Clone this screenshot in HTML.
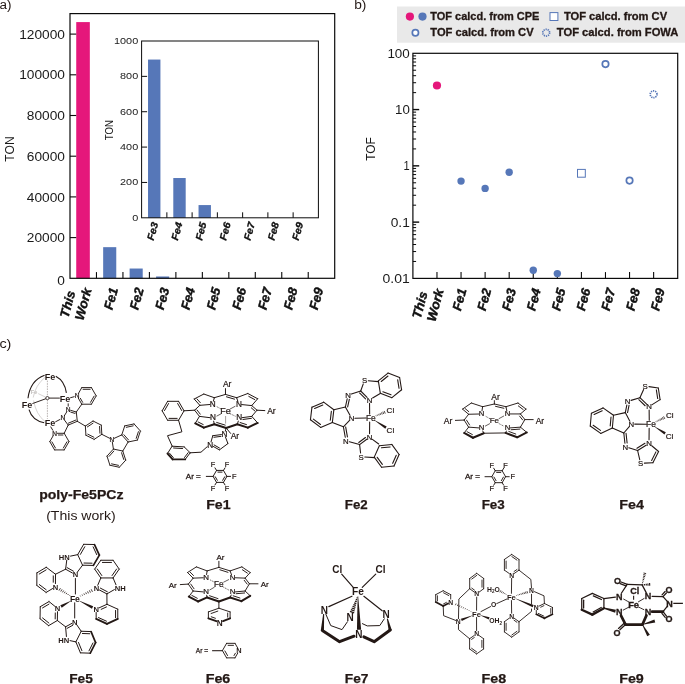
<!DOCTYPE html>
<html><head><meta charset="utf-8"><title>Figure</title>
<style>
html,body{margin:0;padding:0;background:#fff;}
body{width:685px;height:684px;overflow:hidden;font-family:"Liberation Sans", sans-serif;}
svg{display:block;font-family:"Liberation Sans", sans-serif;will-change:transform;}
</style></head><body>
<svg width="685" height="684" viewBox="0 0 685 684">
<rect x="0" y="0" width="685" height="684" fill="#ffffff"/>
<text x="-0.6" y="9.2" font-size="12" font-weight="normal" font-style="normal" text-anchor="start" fill="#231815" textLength="12" lengthAdjust="spacingAndGlyphs" >a)</text>
<text x="354.2" y="9.2" font-size="12" font-weight="normal" font-style="normal" text-anchor="start" fill="#231815" textLength="12.2" lengthAdjust="spacingAndGlyphs" >b)</text>
<text x="-0.6" y="347.5" font-size="12" font-weight="normal" font-style="normal" text-anchor="start" fill="#231815" textLength="12" lengthAdjust="spacingAndGlyphs" >c)</text>
<rect x="76.23" y="22.09" width="13.6" height="256.21" fill="#e5177b" stroke="none" stroke-width="0"/>
<rect x="103.16" y="247.16" width="13.1" height="31.14" fill="#5677b8" stroke="none" stroke-width="0"/>
<rect x="129.62" y="268.53" width="13.1" height="9.77" fill="#5677b8" stroke="none" stroke-width="0"/>
<rect x="156.09" y="276.48" width="13.1" height="1.82" fill="#5677b8" stroke="none" stroke-width="0"/>
<rect x="70" y="13.6" width="264.7" height="264.7" fill="none" stroke="#0a0a0a" stroke-width="1.2"/>
<text x="65" y="284.9" font-size="12.4" font-weight="normal" font-style="normal" text-anchor="end" fill="#1a1a1a" textLength="7.63" lengthAdjust="spacingAndGlyphs" >0</text>
<line x1="70" y1="237.6" x2="76.2" y2="237.6" stroke="#0a0a0a" stroke-width="1.1" />
<text x="65" y="242.2" font-size="12.4" font-weight="normal" font-style="normal" text-anchor="end" fill="#1a1a1a" textLength="38.15" lengthAdjust="spacingAndGlyphs" >20000</text>
<line x1="70" y1="196.9" x2="76.2" y2="196.9" stroke="#0a0a0a" stroke-width="1.1" />
<text x="65" y="201.5" font-size="12.4" font-weight="normal" font-style="normal" text-anchor="end" fill="#1a1a1a" textLength="38.15" lengthAdjust="spacingAndGlyphs" >40000</text>
<line x1="70" y1="156.2" x2="76.2" y2="156.2" stroke="#0a0a0a" stroke-width="1.1" />
<text x="65" y="160.8" font-size="12.4" font-weight="normal" font-style="normal" text-anchor="end" fill="#1a1a1a" textLength="38.15" lengthAdjust="spacingAndGlyphs" >60000</text>
<line x1="70" y1="115.5" x2="76.2" y2="115.5" stroke="#0a0a0a" stroke-width="1.1" />
<text x="65" y="120.1" font-size="12.4" font-weight="normal" font-style="normal" text-anchor="end" fill="#1a1a1a" textLength="38.15" lengthAdjust="spacingAndGlyphs" >80000</text>
<line x1="70" y1="74.8" x2="76.2" y2="74.8" stroke="#0a0a0a" stroke-width="1.1" />
<text x="65" y="79.4" font-size="12.4" font-weight="normal" font-style="normal" text-anchor="end" fill="#1a1a1a" textLength="45.78" lengthAdjust="spacingAndGlyphs" >100000</text>
<line x1="70" y1="34.1" x2="76.2" y2="34.1" stroke="#0a0a0a" stroke-width="1.1" />
<text x="65" y="38.7" font-size="12.4" font-weight="normal" font-style="normal" text-anchor="end" fill="#1a1a1a" textLength="45.78" lengthAdjust="spacingAndGlyphs" >120000</text>
<line x1="96.47" y1="278.3" x2="96.47" y2="272.1" stroke="#0a0a0a" stroke-width="1.1" />
<line x1="122.94" y1="278.3" x2="122.94" y2="272.1" stroke="#0a0a0a" stroke-width="1.1" />
<line x1="149.41" y1="278.3" x2="149.41" y2="272.1" stroke="#0a0a0a" stroke-width="1.1" />
<line x1="175.88" y1="278.3" x2="175.88" y2="272.1" stroke="#0a0a0a" stroke-width="1.1" />
<line x1="202.35" y1="278.3" x2="202.35" y2="272.1" stroke="#0a0a0a" stroke-width="1.1" />
<line x1="228.82" y1="278.3" x2="228.82" y2="272.1" stroke="#0a0a0a" stroke-width="1.1" />
<line x1="255.29" y1="278.3" x2="255.29" y2="272.1" stroke="#0a0a0a" stroke-width="1.1" />
<line x1="281.76" y1="278.3" x2="281.76" y2="272.1" stroke="#0a0a0a" stroke-width="1.1" />
<line x1="308.23" y1="278.3" x2="308.23" y2="272.1" stroke="#0a0a0a" stroke-width="1.1" />
<text x="0" y="0" font-size="12" font-weight="normal" font-style="normal" text-anchor="middle" fill="#1a1a1a" textLength="25.3" lengthAdjust="spacingAndGlyphs" transform="translate(13.6 149.0) rotate(-90)">TON</text>
<text x="68.3" y="318.4" font-size="12.84" font-weight="bold" font-style="italic" text-anchor="start" fill="#111" textLength="27.19" lengthAdjust="spacingAndGlyphs" transform="rotate(-75 68.3 318.4)" stroke="#111" stroke-width="0.42">This</text>
<text x="83.2" y="321" font-size="12.84" font-weight="bold" font-style="italic" text-anchor="start" fill="#111" textLength="32.55" lengthAdjust="spacingAndGlyphs" transform="rotate(-75 83.2 321)" stroke="#111" stroke-width="0.42">Work</text>
<text x="112.3" y="310.6" font-size="12.84" font-weight="bold" font-style="italic" text-anchor="start" fill="#111" textLength="22.45" lengthAdjust="spacingAndGlyphs" transform="rotate(-75 112.3 310.6)" stroke="#111" stroke-width="0.42">Fe1</text>
<text x="137.96" y="310.6" font-size="12.84" font-weight="bold" font-style="italic" text-anchor="start" fill="#111" textLength="22.45" lengthAdjust="spacingAndGlyphs" transform="rotate(-75 137.96 310.6)" stroke="#111" stroke-width="0.42">Fe2</text>
<text x="163.62" y="310.6" font-size="12.84" font-weight="bold" font-style="italic" text-anchor="start" fill="#111" textLength="22.45" lengthAdjust="spacingAndGlyphs" transform="rotate(-75 163.62 310.6)" stroke="#111" stroke-width="0.42">Fe3</text>
<text x="189.28" y="310.6" font-size="12.84" font-weight="bold" font-style="italic" text-anchor="start" fill="#111" textLength="22.45" lengthAdjust="spacingAndGlyphs" transform="rotate(-75 189.28 310.6)" stroke="#111" stroke-width="0.42">Fe4</text>
<text x="214.94" y="310.6" font-size="12.84" font-weight="bold" font-style="italic" text-anchor="start" fill="#111" textLength="22.45" lengthAdjust="spacingAndGlyphs" transform="rotate(-75 214.94 310.6)" stroke="#111" stroke-width="0.42">Fe5</text>
<text x="240.6" y="310.6" font-size="12.84" font-weight="bold" font-style="italic" text-anchor="start" fill="#111" textLength="22.45" lengthAdjust="spacingAndGlyphs" transform="rotate(-75 240.6 310.6)" stroke="#111" stroke-width="0.42">Fe6</text>
<text x="266.26" y="310.6" font-size="12.84" font-weight="bold" font-style="italic" text-anchor="start" fill="#111" textLength="22.45" lengthAdjust="spacingAndGlyphs" transform="rotate(-75 266.26 310.6)" stroke="#111" stroke-width="0.42">Fe7</text>
<text x="291.92" y="310.6" font-size="12.84" font-weight="bold" font-style="italic" text-anchor="start" fill="#111" textLength="22.45" lengthAdjust="spacingAndGlyphs" transform="rotate(-75 291.92 310.6)" stroke="#111" stroke-width="0.42">Fe8</text>
<text x="317.58" y="310.6" font-size="12.84" font-weight="bold" font-style="italic" text-anchor="start" fill="#111" textLength="22.45" lengthAdjust="spacingAndGlyphs" transform="rotate(-75 317.58 310.6)" stroke="#111" stroke-width="0.42">Fe9</text>
<rect x="148.03" y="59.56" width="12.4" height="158.24" fill="#5677b8" stroke="none" stroke-width="0"/>
<rect x="173.29" y="178.02" width="12.4" height="39.78" fill="#5677b8" stroke="none" stroke-width="0"/>
<rect x="198.54" y="205.07" width="12.4" height="12.73" fill="#5677b8" stroke="none" stroke-width="0"/>
<rect x="141.6" y="41" width="176.8" height="176.8" fill="none" stroke="#0a0a0a" stroke-width="1"/>
<text x="138.2" y="220.8" font-size="9.8" font-weight="normal" font-style="normal" text-anchor="end" fill="#1a1a1a" textLength="6.05" lengthAdjust="spacingAndGlyphs" >0</text>
<line x1="141.6" y1="182.44" x2="147.1" y2="182.44" stroke="#0a0a0a" stroke-width="1" />
<text x="138.2" y="185.44" font-size="9.8" font-weight="normal" font-style="normal" text-anchor="end" fill="#1a1a1a" textLength="18.15" lengthAdjust="spacingAndGlyphs" >200</text>
<line x1="141.6" y1="147.08" x2="147.1" y2="147.08" stroke="#0a0a0a" stroke-width="1" />
<text x="138.2" y="150.08" font-size="9.8" font-weight="normal" font-style="normal" text-anchor="end" fill="#1a1a1a" textLength="18.15" lengthAdjust="spacingAndGlyphs" >400</text>
<line x1="141.6" y1="111.72" x2="147.1" y2="111.72" stroke="#0a0a0a" stroke-width="1" />
<text x="138.2" y="114.72" font-size="9.8" font-weight="normal" font-style="normal" text-anchor="end" fill="#1a1a1a" textLength="18.15" lengthAdjust="spacingAndGlyphs" >600</text>
<line x1="141.6" y1="76.36" x2="147.1" y2="76.36" stroke="#0a0a0a" stroke-width="1" />
<text x="138.2" y="79.36" font-size="9.8" font-weight="normal" font-style="normal" text-anchor="end" fill="#1a1a1a" textLength="18.15" lengthAdjust="spacingAndGlyphs" >800</text>
<text x="138.2" y="44" font-size="9.8" font-weight="normal" font-style="normal" text-anchor="end" fill="#1a1a1a" textLength="24.2" lengthAdjust="spacingAndGlyphs" >1000</text>
<line x1="166.86" y1="217.8" x2="166.86" y2="212.3" stroke="#0a0a0a" stroke-width="1" />
<line x1="192.11" y1="217.8" x2="192.11" y2="212.3" stroke="#0a0a0a" stroke-width="1" />
<line x1="217.37" y1="217.8" x2="217.37" y2="212.3" stroke="#0a0a0a" stroke-width="1" />
<line x1="242.63" y1="217.8" x2="242.63" y2="212.3" stroke="#0a0a0a" stroke-width="1" />
<line x1="267.89" y1="217.8" x2="267.89" y2="212.3" stroke="#0a0a0a" stroke-width="1" />
<line x1="293.14" y1="217.8" x2="293.14" y2="212.3" stroke="#0a0a0a" stroke-width="1" />
<text x="0" y="0" font-size="10" font-weight="normal" font-style="normal" text-anchor="middle" fill="#1a1a1a" textLength="20.2" lengthAdjust="spacingAndGlyphs" transform="translate(112.9 130.2) rotate(-90)">TON</text>
<text x="153.6" y="241" font-size="9.95" font-weight="bold" font-style="italic" text-anchor="start" fill="#111" textLength="18.33" lengthAdjust="spacingAndGlyphs" transform="rotate(-75 153.6 241)" stroke="#111" stroke-width="0.33">Fe3</text>
<text x="177.75" y="241" font-size="9.95" font-weight="bold" font-style="italic" text-anchor="start" fill="#111" textLength="18.33" lengthAdjust="spacingAndGlyphs" transform="rotate(-75 177.75 241)" stroke="#111" stroke-width="0.33">Fe4</text>
<text x="201.9" y="241" font-size="9.95" font-weight="bold" font-style="italic" text-anchor="start" fill="#111" textLength="18.33" lengthAdjust="spacingAndGlyphs" transform="rotate(-75 201.9 241)" stroke="#111" stroke-width="0.33">Fe5</text>
<text x="226.05" y="241" font-size="9.95" font-weight="bold" font-style="italic" text-anchor="start" fill="#111" textLength="18.33" lengthAdjust="spacingAndGlyphs" transform="rotate(-75 226.05 241)" stroke="#111" stroke-width="0.33">Fe6</text>
<text x="250.2" y="241" font-size="9.95" font-weight="bold" font-style="italic" text-anchor="start" fill="#111" textLength="18.33" lengthAdjust="spacingAndGlyphs" transform="rotate(-75 250.2 241)" stroke="#111" stroke-width="0.33">Fe7</text>
<text x="274.35" y="241" font-size="9.95" font-weight="bold" font-style="italic" text-anchor="start" fill="#111" textLength="18.33" lengthAdjust="spacingAndGlyphs" transform="rotate(-75 274.35 241)" stroke="#111" stroke-width="0.33">Fe8</text>
<text x="298.5" y="241" font-size="9.95" font-weight="bold" font-style="italic" text-anchor="start" fill="#111" textLength="18.33" lengthAdjust="spacingAndGlyphs" transform="rotate(-75 298.5 241)" stroke="#111" stroke-width="0.33">Fe9</text>
<rect x="397" y="6.5" width="288.2" height="36.2" fill="#e9e9e9" stroke="none" stroke-width="0"/>
<circle cx="409.9" cy="16.6" r="4.1" fill="#e5177b"/>
<circle cx="422.5" cy="16.6" r="4.1" fill="#5677b8"/>
<text x="430.3" y="19.7" font-size="10.8" font-weight="bold" font-style="normal" text-anchor="start" fill="#231815" textLength="109" lengthAdjust="spacingAndGlyphs" stroke="#231815" stroke-width="0.3">TOF calcd. from CPE</text>
<rect x="550" y="12.6" width="7.9" height="7.9" fill="#fff" stroke="#5677b8" stroke-width="1"/>
<text x="563.9" y="19.7" font-size="10.8" font-weight="bold" font-style="normal" text-anchor="start" fill="#231815" textLength="103.2" lengthAdjust="spacingAndGlyphs" stroke="#231815" stroke-width="0.3">TOF calcd. from CV</text>
<circle cx="415.4" cy="32.7" r="3.1" fill="#fff" stroke="#5677b8" stroke-width="1.7"/>
<text x="430.3" y="35.8" font-size="10.8" font-weight="bold" font-style="normal" text-anchor="start" fill="#231815" textLength="103.3" lengthAdjust="spacingAndGlyphs" stroke="#231815" stroke-width="0.3">TOF calcd. from CV</text>
<circle cx="546.2" cy="32.7" r="3.4" fill="none" stroke="#5677b8" stroke-width="1.7" stroke-dasharray="1.25 0.886"/>
<text x="556.8" y="35.8" font-size="10.8" font-weight="bold" font-style="normal" text-anchor="start" fill="#231815" textLength="121.6" lengthAdjust="spacingAndGlyphs" stroke="#231815" stroke-width="0.3">TOF calcd. from FOWA</text>
<rect x="412.9" y="53.3" width="264.8" height="225.1" fill="none" stroke="#0a0a0a" stroke-width="1.2"/>
<text x="409.8" y="282.9" font-size="12.4" font-weight="normal" font-style="normal" text-anchor="end" fill="#1a1a1a" textLength="27.2" lengthAdjust="spacingAndGlyphs" >0.01</text>
<line x1="412.9" y1="261.46" x2="416.1" y2="261.46" stroke="#0a0a0a" stroke-width="1" />
<line x1="412.9" y1="251.55" x2="416.1" y2="251.55" stroke="#0a0a0a" stroke-width="1" />
<line x1="412.9" y1="244.52" x2="416.1" y2="244.52" stroke="#0a0a0a" stroke-width="1" />
<line x1="412.9" y1="239.07" x2="416.1" y2="239.07" stroke="#0a0a0a" stroke-width="1" />
<line x1="412.9" y1="234.61" x2="416.1" y2="234.61" stroke="#0a0a0a" stroke-width="1" />
<line x1="412.9" y1="230.84" x2="416.1" y2="230.84" stroke="#0a0a0a" stroke-width="1" />
<line x1="412.9" y1="227.58" x2="416.1" y2="227.58" stroke="#0a0a0a" stroke-width="1" />
<line x1="412.9" y1="224.7" x2="416.1" y2="224.7" stroke="#0a0a0a" stroke-width="1" />
<line x1="412.9" y1="222.12" x2="419.2" y2="222.12" stroke="#0a0a0a" stroke-width="1.4" />
<text x="409.8" y="226.62" font-size="12.4" font-weight="normal" font-style="normal" text-anchor="end" fill="#1a1a1a" textLength="19.1" lengthAdjust="spacingAndGlyphs" >0.1</text>
<line x1="412.9" y1="205.18" x2="416.1" y2="205.18" stroke="#0a0a0a" stroke-width="1" />
<line x1="412.9" y1="195.28" x2="416.1" y2="195.28" stroke="#0a0a0a" stroke-width="1" />
<line x1="412.9" y1="188.24" x2="416.1" y2="188.24" stroke="#0a0a0a" stroke-width="1" />
<line x1="412.9" y1="182.79" x2="416.1" y2="182.79" stroke="#0a0a0a" stroke-width="1" />
<line x1="412.9" y1="178.33" x2="416.1" y2="178.33" stroke="#0a0a0a" stroke-width="1" />
<line x1="412.9" y1="174.57" x2="416.1" y2="174.57" stroke="#0a0a0a" stroke-width="1" />
<line x1="412.9" y1="171.3" x2="416.1" y2="171.3" stroke="#0a0a0a" stroke-width="1" />
<line x1="412.9" y1="168.43" x2="416.1" y2="168.43" stroke="#0a0a0a" stroke-width="1" />
<line x1="412.9" y1="165.85" x2="419.2" y2="165.85" stroke="#0a0a0a" stroke-width="1.4" />
<text x="409.8" y="170.35" font-size="12.4" font-weight="normal" font-style="normal" text-anchor="end" fill="#1a1a1a" textLength="6.2" lengthAdjust="spacingAndGlyphs" >1</text>
<line x1="412.9" y1="148.91" x2="416.1" y2="148.91" stroke="#0a0a0a" stroke-width="1" />
<line x1="412.9" y1="139" x2="416.1" y2="139" stroke="#0a0a0a" stroke-width="1" />
<line x1="412.9" y1="131.97" x2="416.1" y2="131.97" stroke="#0a0a0a" stroke-width="1" />
<line x1="412.9" y1="126.52" x2="416.1" y2="126.52" stroke="#0a0a0a" stroke-width="1" />
<line x1="412.9" y1="122.06" x2="416.1" y2="122.06" stroke="#0a0a0a" stroke-width="1" />
<line x1="412.9" y1="118.29" x2="416.1" y2="118.29" stroke="#0a0a0a" stroke-width="1" />
<line x1="412.9" y1="115.03" x2="416.1" y2="115.03" stroke="#0a0a0a" stroke-width="1" />
<line x1="412.9" y1="112.15" x2="416.1" y2="112.15" stroke="#0a0a0a" stroke-width="1" />
<line x1="412.9" y1="109.57" x2="419.2" y2="109.57" stroke="#0a0a0a" stroke-width="1.4" />
<text x="409.8" y="114.07" font-size="12.4" font-weight="normal" font-style="normal" text-anchor="end" fill="#1a1a1a" textLength="14.8" lengthAdjust="spacingAndGlyphs" >10</text>
<line x1="412.9" y1="92.63" x2="416.1" y2="92.63" stroke="#0a0a0a" stroke-width="1" />
<line x1="412.9" y1="82.73" x2="416.1" y2="82.73" stroke="#0a0a0a" stroke-width="1" />
<line x1="412.9" y1="75.69" x2="416.1" y2="75.69" stroke="#0a0a0a" stroke-width="1" />
<line x1="412.9" y1="70.24" x2="416.1" y2="70.24" stroke="#0a0a0a" stroke-width="1" />
<line x1="412.9" y1="65.78" x2="416.1" y2="65.78" stroke="#0a0a0a" stroke-width="1" />
<line x1="412.9" y1="62.02" x2="416.1" y2="62.02" stroke="#0a0a0a" stroke-width="1" />
<line x1="412.9" y1="58.75" x2="416.1" y2="58.75" stroke="#0a0a0a" stroke-width="1" />
<line x1="412.9" y1="55.88" x2="416.1" y2="55.88" stroke="#0a0a0a" stroke-width="1" />
<text x="409.8" y="57.8" font-size="12.4" font-weight="normal" font-style="normal" text-anchor="end" fill="#1a1a1a" textLength="22.4" lengthAdjust="spacingAndGlyphs" >100</text>
<line x1="436.97" y1="278.4" x2="436.97" y2="272.1" stroke="#0a0a0a" stroke-width="1.1" />
<line x1="461.05" y1="278.4" x2="461.05" y2="272.1" stroke="#0a0a0a" stroke-width="1.1" />
<line x1="485.12" y1="278.4" x2="485.12" y2="272.1" stroke="#0a0a0a" stroke-width="1.1" />
<line x1="509.19" y1="278.4" x2="509.19" y2="272.1" stroke="#0a0a0a" stroke-width="1.1" />
<line x1="533.26" y1="278.4" x2="533.26" y2="272.1" stroke="#0a0a0a" stroke-width="1.1" />
<line x1="557.34" y1="278.4" x2="557.34" y2="272.1" stroke="#0a0a0a" stroke-width="1.1" />
<line x1="581.41" y1="278.4" x2="581.41" y2="272.1" stroke="#0a0a0a" stroke-width="1.1" />
<line x1="605.48" y1="278.4" x2="605.48" y2="272.1" stroke="#0a0a0a" stroke-width="1.1" />
<line x1="629.55" y1="278.4" x2="629.55" y2="272.1" stroke="#0a0a0a" stroke-width="1.1" />
<line x1="653.63" y1="278.4" x2="653.63" y2="272.1" stroke="#0a0a0a" stroke-width="1.1" />
<text x="0" y="0" font-size="12.4" font-weight="normal" font-style="normal" text-anchor="middle" fill="#1a1a1a" textLength="23.7" lengthAdjust="spacingAndGlyphs" transform="translate(374.5 149.0) rotate(-90)">TOF</text>
<circle cx="436.97" cy="85.5" r="4.1" fill="#e5177b"/>
<circle cx="461.05" cy="181.1" r="3.7" fill="#5677b8"/>
<circle cx="485.12" cy="188.4" r="3.7" fill="#5677b8"/>
<circle cx="509.19" cy="172.3" r="3.7" fill="#5677b8"/>
<circle cx="533.26" cy="270.3" r="3.7" fill="#5677b8"/>
<circle cx="557.34" cy="273.6" r="3.7" fill="#5677b8"/>
<rect x="577.51" y="169.4" width="7.8" height="7.8" fill="#fff" stroke="#5677b8" stroke-width="1"/>
<circle cx="605.48" cy="64.1" r="3.2" fill="#fff" stroke="#5677b8" stroke-width="1.7"/>
<circle cx="629.55" cy="180.6" r="3.2" fill="#fff" stroke="#5677b8" stroke-width="1.7"/>
<circle cx="653.63" cy="94.3" r="3.4" fill="none" stroke="#5677b8" stroke-width="1.7" stroke-dasharray="1.25 0.886"/>
<text x="420.6" y="319.3" font-size="12.84" font-weight="bold" font-style="italic" text-anchor="start" fill="#111" textLength="27.4" lengthAdjust="spacingAndGlyphs" transform="rotate(-75 420.6 319.3)" stroke="#111" stroke-width="0.42">This</text>
<text x="435.2" y="322.2" font-size="12.84" font-weight="bold" font-style="italic" text-anchor="start" fill="#111" textLength="32.96" lengthAdjust="spacingAndGlyphs" transform="rotate(-75 435.2 322.2)" stroke="#111" stroke-width="0.42">Work</text>
<text x="460.7" y="311.5" font-size="12.84" font-weight="bold" font-style="italic" text-anchor="start" fill="#111" textLength="22.45" lengthAdjust="spacingAndGlyphs" transform="rotate(-75 460.7 311.5)" stroke="#111" stroke-width="0.42">Fe1</text>
<text x="485.5" y="311.5" font-size="12.84" font-weight="bold" font-style="italic" text-anchor="start" fill="#111" textLength="22.45" lengthAdjust="spacingAndGlyphs" transform="rotate(-75 485.5 311.5)" stroke="#111" stroke-width="0.42">Fe2</text>
<text x="510.3" y="311.5" font-size="12.84" font-weight="bold" font-style="italic" text-anchor="start" fill="#111" textLength="22.45" lengthAdjust="spacingAndGlyphs" transform="rotate(-75 510.3 311.5)" stroke="#111" stroke-width="0.42">Fe3</text>
<text x="535.1" y="311.5" font-size="12.84" font-weight="bold" font-style="italic" text-anchor="start" fill="#111" textLength="22.45" lengthAdjust="spacingAndGlyphs" transform="rotate(-75 535.1 311.5)" stroke="#111" stroke-width="0.42">Fe4</text>
<text x="559.9" y="311.5" font-size="12.84" font-weight="bold" font-style="italic" text-anchor="start" fill="#111" textLength="22.45" lengthAdjust="spacingAndGlyphs" transform="rotate(-75 559.9 311.5)" stroke="#111" stroke-width="0.42">Fe5</text>
<text x="584.7" y="311.5" font-size="12.84" font-weight="bold" font-style="italic" text-anchor="start" fill="#111" textLength="22.45" lengthAdjust="spacingAndGlyphs" transform="rotate(-75 584.7 311.5)" stroke="#111" stroke-width="0.42">Fe6</text>
<text x="609.5" y="311.5" font-size="12.84" font-weight="bold" font-style="italic" text-anchor="start" fill="#111" textLength="22.45" lengthAdjust="spacingAndGlyphs" transform="rotate(-75 609.5 311.5)" stroke="#111" stroke-width="0.42">Fe7</text>
<text x="634.3" y="311.5" font-size="12.84" font-weight="bold" font-style="italic" text-anchor="start" fill="#111" textLength="22.45" lengthAdjust="spacingAndGlyphs" transform="rotate(-75 634.3 311.5)" stroke="#111" stroke-width="0.42">Fe8</text>
<text x="659.1" y="311.5" font-size="12.84" font-weight="bold" font-style="italic" text-anchor="start" fill="#111" textLength="22.45" lengthAdjust="spacingAndGlyphs" transform="rotate(-75 659.1 311.5)" stroke="#111" stroke-width="0.42">Fe9</text>
<path d="M45.2,377.2 Q35.5,385 33.2,397.5" fill="none" stroke="#c4c0be" stroke-width="0.7"/>
<path d="M33.6,400.5 Q36,414.5 45,421.5" fill="none" stroke="#c4c0be" stroke-width="0.7"/>
<text x="34.1" y="394.22" font-size="5.6" font-weight="bold" font-style="normal" text-anchor="middle" fill="#c4c0be" >Fe</text>
<line x1="45.9" y1="397.3" x2="38.2" y2="393.6" stroke="#c4c0be" stroke-width="0.7" />
<line x1="47.4" y1="380.6" x2="47.4" y2="396.5" stroke="#8a807c" stroke-width="0.6" stroke-dasharray="1.6 1"/>
<line x1="47.4" y1="399.8" x2="47.4" y2="418.8" stroke="#8a807c" stroke-width="0.6" stroke-dasharray="1.6 1"/>
<path d="M44.6,375.3 Q30.2,380.5 28.0,398.2" fill="none" stroke="#231815" stroke-width="1.1"/>
<path d="M29.0,409.6 Q32.2,420.4 44.2,422.7" fill="none" stroke="#231815" stroke-width="1.1"/>
<path d="M55.8,376.2 Q64.8,381.0 66.4,392.9" fill="none" stroke="#231815" stroke-width="1.1"/>
<circle cx="47.4" cy="398.1" r="1.6" fill="#fff" stroke="#231815" stroke-width="0.8"/>
<line x1="49" y1="398.1" x2="59.8" y2="398.1" stroke="#231815" stroke-width="0.95" />
<line x1="45.9" y1="398.7" x2="32.4" y2="403.6" stroke="#231815" stroke-width="0.95" />
<text x="50" y="379.64" font-size="9" font-weight="bold" font-style="normal" text-anchor="middle" fill="#231815" >Fe</text>
<text x="65.1" y="401.74" font-size="9" font-weight="bold" font-style="normal" text-anchor="middle" fill="#231815" >Fe</text>
<text x="27.1" y="407.74" font-size="9" font-weight="bold" font-style="normal" text-anchor="middle" fill="#231815" >Fe</text>
<text x="50" y="425.94" font-size="9" font-weight="bold" font-style="normal" text-anchor="middle" fill="#231815" >Fe</text>
<line x1="78.4" y1="393.48" x2="81.8" y2="387.59" stroke="#231815" stroke-width="0.95" stroke-linecap="round" />
<line x1="81.8" y1="387.59" x2="91.4" y2="387.59" stroke="#231815" stroke-width="0.95" stroke-linecap="round" />
<line x1="83.05" y1="389.29" x2="90.15" y2="389.29" stroke="#231815" stroke-width="0.95" stroke-linecap="round"/>
<line x1="91.4" y1="387.59" x2="96.2" y2="395.9" stroke="#231815" stroke-width="0.95" stroke-linecap="round" />
<line x1="96.2" y1="395.9" x2="91.4" y2="404.21" stroke="#231815" stroke-width="0.95" stroke-linecap="round" />
<line x1="94.1" y1="396.13" x2="90.55" y2="402.28" stroke="#231815" stroke-width="0.95" stroke-linecap="round"/>
<line x1="91.4" y1="404.21" x2="81.8" y2="404.21" stroke="#231815" stroke-width="0.95" stroke-linecap="round" />
<line x1="81.8" y1="404.21" x2="78.4" y2="398.32" stroke="#231815" stroke-width="0.95" stroke-linecap="round" />
<line x1="82.65" y1="402.28" x2="80.36" y2="398.31" stroke="#231815" stroke-width="0.95" stroke-linecap="round"/>
<text x="77.2" y="398.28" font-size="6.6" font-weight="normal" font-style="normal" text-anchor="middle" fill="#231815" stroke="#231815" stroke-width="0.22">N</text>
<line x1="70.2" y1="397.8" x2="74.5" y2="396.6" stroke="#231815" stroke-width="0.95" />
<line x1="70.69" y1="410.34" x2="76.3" y2="412" stroke="#231815" stroke-width="0.95" stroke-linecap="round" />
<line x1="70.77" y1="412.13" x2="75.01" y2="413.39" stroke="#231815" stroke-width="0.95" stroke-linecap="round"/>
<line x1="76.3" y1="412" x2="77.3" y2="421.3" stroke="#231815" stroke-width="0.95" stroke-linecap="round" />
<line x1="77.3" y1="421.3" x2="68.2" y2="425.1" stroke="#231815" stroke-width="0.95" stroke-linecap="round" />
<line x1="75.73" y1="420.11" x2="68.45" y2="423.15" stroke="#231815" stroke-width="0.95" stroke-linecap="round"/>
<line x1="68.2" y1="425.1" x2="64.46" y2="420.08" stroke="#231815" stroke-width="0.95" stroke-linecap="round" />
<line x1="64.29" y1="415.8" x2="66.81" y2="411.8" stroke="#231815" stroke-width="0.95" stroke-linecap="round" />
<text x="68.2" y="411.98" font-size="6.6" font-weight="normal" font-style="normal" text-anchor="middle" fill="#231815" stroke="#231815" stroke-width="0.22">N</text>
<text x="62.9" y="420.38" font-size="6.6" font-weight="normal" font-style="normal" text-anchor="middle" fill="#231815" stroke="#231815" stroke-width="0.22">N</text>
<line x1="68.2" y1="403.4" x2="68.2" y2="406.6" stroke="#231815" stroke-width="0.95" />
<line x1="55.3" y1="421.9" x2="60.3" y2="419.3" stroke="#231815" stroke-width="0.95" />
<line x1="76.3" y1="412" x2="81.8" y2="404.21" stroke="#231815" stroke-width="0.95" stroke-linecap="round" />
<line x1="57.4" y1="433.29" x2="64.2" y2="433.29" stroke="#231815" stroke-width="0.95" stroke-linecap="round" />
<line x1="58.37" y1="434.99" x2="62.95" y2="434.99" stroke="#231815" stroke-width="0.95" stroke-linecap="round"/>
<line x1="64.2" y1="433.29" x2="69" y2="441.6" stroke="#231815" stroke-width="0.95" stroke-linecap="round" />
<line x1="69" y1="441.6" x2="64.2" y2="449.91" stroke="#231815" stroke-width="0.95" stroke-linecap="round" />
<line x1="66.9" y1="441.83" x2="63.35" y2="447.98" stroke="#231815" stroke-width="0.95" stroke-linecap="round"/>
<line x1="64.2" y1="449.91" x2="54.6" y2="449.91" stroke="#231815" stroke-width="0.95" stroke-linecap="round" />
<line x1="54.6" y1="449.91" x2="49.8" y2="441.6" stroke="#231815" stroke-width="0.95" stroke-linecap="round" />
<line x1="55.45" y1="447.98" x2="51.9" y2="441.83" stroke="#231815" stroke-width="0.95" stroke-linecap="round"/>
<line x1="49.8" y1="441.6" x2="53.2" y2="435.71" stroke="#231815" stroke-width="0.95" stroke-linecap="round" />
<text x="54.6" y="435.66" font-size="6.6" font-weight="normal" font-style="normal" text-anchor="middle" fill="#231815" stroke="#231815" stroke-width="0.22">N</text>
<line x1="50.6" y1="426.6" x2="53" y2="430.6" stroke="#231815" stroke-width="0.95" />
<line x1="68.2" y1="425.1" x2="64.2" y2="433.29" stroke="#231815" stroke-width="0.95" stroke-linecap="round" />
<line x1="85.37" y1="426.08" x2="93.05" y2="421.02" stroke="#231815" stroke-width="0.95" stroke-linecap="round" />
<line x1="87.36" y1="426.92" x2="93.05" y2="423.18" stroke="#231815" stroke-width="0.95" stroke-linecap="round"/>
<line x1="93.05" y1="421.02" x2="101.28" y2="425.14" stroke="#231815" stroke-width="0.95" stroke-linecap="round" />
<line x1="101.28" y1="425.14" x2="101.83" y2="434.32" stroke="#231815" stroke-width="0.95" stroke-linecap="round" />
<line x1="99.55" y1="426.44" x2="99.96" y2="433.23" stroke="#231815" stroke-width="0.95" stroke-linecap="round"/>
<line x1="101.83" y1="434.32" x2="94.15" y2="439.38" stroke="#231815" stroke-width="0.95" stroke-linecap="round" />
<line x1="94.15" y1="439.38" x2="85.92" y2="435.26" stroke="#231815" stroke-width="0.95" stroke-linecap="round" />
<line x1="93.88" y1="437.24" x2="87.79" y2="434.19" stroke="#231815" stroke-width="0.95" stroke-linecap="round"/>
<line x1="85.92" y1="435.26" x2="85.37" y2="426.08" stroke="#231815" stroke-width="0.95" stroke-linecap="round" />
<line x1="77.3" y1="421.3" x2="85.37" y2="426.08" stroke="#231815" stroke-width="0.95" stroke-linecap="round" />
<line x1="101.83" y1="434.32" x2="109.58" y2="438.23" stroke="#231815" stroke-width="0.95" stroke-linecap="round" />
<text x="111.9" y="441.78" font-size="6.6" font-weight="normal" font-style="normal" text-anchor="middle" fill="#231815" stroke="#231815" stroke-width="0.22">N</text>
<line x1="121.77" y1="434.91" x2="124.74" y2="425.87" stroke="#231815" stroke-width="0.95" stroke-linecap="round" />
<line x1="124.74" y1="425.87" x2="134.06" y2="423.93" stroke="#231815" stroke-width="0.95" stroke-linecap="round" />
<line x1="126.3" y1="427.28" x2="133.19" y2="425.84" stroke="#231815" stroke-width="0.95" stroke-linecap="round"/>
<line x1="134.06" y1="423.93" x2="140.4" y2="431.02" stroke="#231815" stroke-width="0.95" stroke-linecap="round" />
<line x1="140.4" y1="431.02" x2="137.43" y2="440.06" stroke="#231815" stroke-width="0.95" stroke-linecap="round" />
<line x1="138.4" y1="431.67" x2="136.2" y2="438.36" stroke="#231815" stroke-width="0.95" stroke-linecap="round"/>
<line x1="137.43" y1="440.06" x2="128.11" y2="442.01" stroke="#231815" stroke-width="0.95" stroke-linecap="round" />
<line x1="128.11" y1="442.01" x2="121.77" y2="434.91" stroke="#231815" stroke-width="0.95" stroke-linecap="round" />
<line x1="128.55" y1="439.95" x2="123.86" y2="434.7" stroke="#231815" stroke-width="0.95" stroke-linecap="round"/>
<line x1="113.41" y1="449.04" x2="122.78" y2="451.04" stroke="#231815" stroke-width="0.95" stroke-linecap="round" />
<line x1="122.78" y1="451.04" x2="125.73" y2="460.15" stroke="#231815" stroke-width="0.95" stroke-linecap="round" />
<line x1="121.55" y1="452.75" x2="123.73" y2="459.49" stroke="#231815" stroke-width="0.95" stroke-linecap="round"/>
<line x1="125.73" y1="460.15" x2="119.32" y2="467.26" stroke="#231815" stroke-width="0.95" stroke-linecap="round" />
<line x1="119.32" y1="467.26" x2="109.95" y2="465.26" stroke="#231815" stroke-width="0.95" stroke-linecap="round" />
<line x1="118.46" y1="465.34" x2="111.53" y2="463.86" stroke="#231815" stroke-width="0.95" stroke-linecap="round"/>
<line x1="109.95" y1="465.26" x2="107" y2="456.15" stroke="#231815" stroke-width="0.95" stroke-linecap="round" />
<line x1="107" y1="456.15" x2="113.41" y2="449.04" stroke="#231815" stroke-width="0.95" stroke-linecap="round" />
<line x1="109.1" y1="456.37" x2="113.84" y2="451.1" stroke="#231815" stroke-width="0.95" stroke-linecap="round"/>
<line x1="114.27" y1="438.32" x2="121.77" y2="434.91" stroke="#231815" stroke-width="0.95" stroke-linecap="round" />
<line x1="112.3" y1="441.97" x2="113.41" y2="449.04" stroke="#231815" stroke-width="0.95" stroke-linecap="round" />
<line x1="128.11" y1="442.01" x2="122.78" y2="451.04" stroke="#231815" stroke-width="0.95" stroke-linecap="round" />
<text x="81.3" y="499.3" font-size="12.3" font-weight="bold" font-style="normal" text-anchor="middle" fill="#231815" textLength="84.3" lengthAdjust="spacingAndGlyphs" stroke="#231815" stroke-width="0.25">poly-Fe5PCz</text>
<text x="81" y="520" font-size="12.3" font-weight="normal" font-style="normal" text-anchor="middle" fill="#231815" textLength="69.6" lengthAdjust="spacingAndGlyphs" >(This work)</text>
<line x1="225.6" y1="416" x2="225.6" y2="423.6" stroke="#6b605c" stroke-width="0.6" />
<line x1="225.47" y1="394.42" x2="214.31" y2="397.71" stroke="#231815" stroke-width="1" stroke-linecap="round" />
<line x1="225.47" y1="394.42" x2="236.64" y2="397.71" stroke="#231815" stroke-width="1" stroke-linecap="round" />
<line x1="226.47" y1="396.8" x2="234.52" y2="399.17" stroke="#231815" stroke-width="1" stroke-linecap="round"/>
<line x1="214.31" y1="397.71" x2="203.8" y2="394.03" stroke="#231815" stroke-width="1" stroke-linecap="round" />
<line x1="203.8" y1="394.03" x2="194.2" y2="399.02" stroke="#231815" stroke-width="1" stroke-linecap="round" />
<line x1="194.2" y1="399.02" x2="199.85" y2="405.33" stroke="#231815" stroke-width="1" stroke-linecap="round" />
<line x1="196.9" y1="398.88" x2="200.29" y2="402.67" stroke="#231815" stroke-width="1" stroke-linecap="round"/>
<line x1="199.85" y1="405.33" x2="209.81" y2="404.51" stroke="#231815" stroke-width="1" stroke-linecap="round" />
<line x1="213.4" y1="401.18" x2="214.31" y2="397.71" stroke="#231815" stroke-width="1" stroke-linecap="round" />
<line x1="236.64" y1="397.71" x2="247.81" y2="393.5" stroke="#231815" stroke-width="1" stroke-linecap="round" />
<line x1="247.81" y1="393.5" x2="257.67" y2="398.76" stroke="#231815" stroke-width="1" stroke-linecap="round" />
<line x1="248.79" y1="396.41" x2="254.71" y2="399.56" stroke="#231815" stroke-width="1" stroke-linecap="round"/>
<line x1="257.67" y1="398.76" x2="251.75" y2="405.59" stroke="#231815" stroke-width="1" stroke-linecap="round" />
<line x1="251.75" y1="405.59" x2="241.66" y2="404.56" stroke="#231815" stroke-width="1" stroke-linecap="round" />
<line x1="237.85" y1="401.25" x2="236.64" y2="397.71" stroke="#231815" stroke-width="1" stroke-linecap="round" />
<line x1="194.6" y1="410.19" x2="199.85" y2="405.33" stroke="#231815" stroke-width="1" stroke-linecap="round" />
<line x1="194.6" y1="410.19" x2="199.46" y2="416.37" stroke="#231815" stroke-width="1" stroke-linecap="round" />
<line x1="196.95" y1="409.94" x2="200.25" y2="414.14" stroke="#231815" stroke-width="1" stroke-linecap="round"/>
<line x1="257.01" y1="410.19" x2="251.75" y2="405.59" stroke="#231815" stroke-width="1" stroke-linecap="round" />
<line x1="254.85" y1="410.96" x2="251.28" y2="407.83" stroke="#231815" stroke-width="1" stroke-linecap="round"/>
<line x1="257.01" y1="410.19" x2="251.75" y2="416.37" stroke="#231815" stroke-width="1" stroke-linecap="round" />
<line x1="199.46" y1="416.37" x2="210.22" y2="417.72" stroke="#231815" stroke-width="1" stroke-linecap="round" />
<line x1="199.46" y1="416.37" x2="195.26" y2="423.33" stroke="#231815" stroke-width="1" stroke-linecap="round" />
<line x1="195.26" y1="423.33" x2="203.8" y2="427.66" stroke="#231815" stroke-width="2" stroke-linecap="round" />
<line x1="198.1" y1="421.97" x2="203.22" y2="424.57" stroke="#231815" stroke-width="1" stroke-linecap="round"/>
<line x1="203.8" y1="427.66" x2="214.31" y2="424.25" stroke="#231815" stroke-width="2" stroke-linecap="round" />
<line x1="214.31" y1="424.25" x2="213.66" y2="421.2" stroke="#231815" stroke-width="1" stroke-linecap="round" />
<line x1="251.75" y1="416.37" x2="242.04" y2="417.69" stroke="#231815" stroke-width="1" stroke-linecap="round" />
<line x1="251.39" y1="418.33" x2="242.93" y2="419.49" stroke="#231815" stroke-width="1" stroke-linecap="round"/>
<line x1="251.75" y1="416.37" x2="257.67" y2="422.93" stroke="#231815" stroke-width="1" stroke-linecap="round" />
<line x1="257.67" y1="422.93" x2="247.81" y2="427.66" stroke="#231815" stroke-width="2" stroke-linecap="round" />
<line x1="247.81" y1="427.66" x2="237.3" y2="424.25" stroke="#231815" stroke-width="2" stroke-linecap="round" />
<line x1="246.48" y1="424.6" x2="240.17" y2="422.55" stroke="#231815" stroke-width="1" stroke-linecap="round"/>
<line x1="237.3" y1="424.25" x2="238.3" y2="421.12" stroke="#231815" stroke-width="1" stroke-linecap="round" />
<line x1="226.13" y1="427.93" x2="214.31" y2="424.25" stroke="#231815" stroke-width="2" stroke-linecap="round" />
<line x1="226.13" y1="427.93" x2="237.3" y2="424.25" stroke="#231815" stroke-width="2" stroke-linecap="round" />
<line x1="225.19" y1="425.12" x2="216.68" y2="422.47" stroke="#231815" stroke-width="1" stroke-linecap="round"/>
<line x1="221.11" y1="409.06" x2="216.09" y2="406.24" stroke="#231815" stroke-width="0.7" stroke-dasharray="1.1 0.8"/>
<line x1="229.88" y1="409.13" x2="235.36" y2="406.18" stroke="#231815" stroke-width="0.7" />
<line x1="221.05" y1="413.83" x2="216.53" y2="416.21" stroke="#231815" stroke-width="0.7" />
<line x1="229.99" y1="413.65" x2="235.66" y2="416.35" stroke="#231815" stroke-width="0.7" stroke-dasharray="1.1 0.8"/>
<text x="225.47" y="414.14" font-size="9" font-weight="normal" font-style="normal" text-anchor="middle" fill="#231815" stroke="#231815" stroke-width="0.22">Fe</text>
<text x="212.6" y="406.63" font-size="8.2" font-weight="normal" font-style="normal" text-anchor="middle" fill="#231815" stroke="#231815" stroke-width="0.22">N</text>
<text x="238.88" y="406.63" font-size="8.2" font-weight="normal" font-style="normal" text-anchor="middle" fill="#231815" stroke="#231815" stroke-width="0.22">N</text>
<text x="212.99" y="420.43" font-size="8.2" font-weight="normal" font-style="normal" text-anchor="middle" fill="#231815" stroke="#231815" stroke-width="0.22">N</text>
<text x="239.27" y="420.43" font-size="8.2" font-weight="normal" font-style="normal" text-anchor="middle" fill="#231815" stroke="#231815" stroke-width="0.22">N</text>
<line x1="225.47" y1="394.42" x2="225.47" y2="388.6" stroke="#231815" stroke-width="1" stroke-linecap="round" />
<text x="227.2" y="387.06" font-size="8.5" font-weight="normal" font-style="normal" text-anchor="middle" fill="#231815" stroke="#231815" stroke-width="0.22">Ar</text>
<line x1="257.01" y1="410.19" x2="264.8" y2="410.6" stroke="#231815" stroke-width="1" stroke-linecap="round" />
<text x="271.4" y="414.26" font-size="8.5" font-weight="normal" font-style="normal" text-anchor="middle" fill="#231815" stroke="#231815" stroke-width="0.22">Ar</text>
<line x1="162.15" y1="410.8" x2="167.62" y2="401.32" stroke="#231815" stroke-width="1" stroke-linecap="round" />
<line x1="164.51" y1="410.52" x2="168.56" y2="403.5" stroke="#231815" stroke-width="1" stroke-linecap="round"/>
<line x1="167.62" y1="401.32" x2="178.57" y2="401.32" stroke="#231815" stroke-width="1" stroke-linecap="round" />
<line x1="178.57" y1="401.32" x2="184.05" y2="410.8" stroke="#231815" stroke-width="1" stroke-linecap="round" />
<line x1="177.64" y1="403.5" x2="181.69" y2="410.52" stroke="#231815" stroke-width="1" stroke-linecap="round"/>
<line x1="184.05" y1="410.8" x2="178.57" y2="420.28" stroke="#231815" stroke-width="1" stroke-linecap="round" />
<line x1="178.57" y1="420.28" x2="167.62" y2="420.28" stroke="#231815" stroke-width="1" stroke-linecap="round" />
<line x1="177.15" y1="418.38" x2="169.05" y2="418.38" stroke="#231815" stroke-width="1" stroke-linecap="round"/>
<line x1="167.62" y1="420.28" x2="162.15" y2="410.8" stroke="#231815" stroke-width="1" stroke-linecap="round" />
<line x1="184.05" y1="410.8" x2="194.6" y2="410.19" stroke="#231815" stroke-width="1" stroke-linecap="round" />
<polyline points="178.57,420.28 181.9,431.8 167.5,435.7 172.1,446" fill="none" stroke="#231815" stroke-width="1" stroke-linejoin="round" stroke-linecap="round" />
<line x1="172.1" y1="446.2" x2="184.2" y2="446.9" stroke="#231815" stroke-width="1" stroke-linecap="round" />
<line x1="173.57" y1="447.99" x2="182.53" y2="448.51" stroke="#231815" stroke-width="1" stroke-linecap="round"/>
<line x1="184.2" y1="446.9" x2="190.2" y2="452.8" stroke="#231815" stroke-width="1" stroke-linecap="round" />
<line x1="190.2" y1="452.8" x2="185.2" y2="459.4" stroke="#231815" stroke-width="1" stroke-linecap="round" />
<line x1="188.19" y1="452.63" x2="184.49" y2="457.52" stroke="#231815" stroke-width="1" stroke-linecap="round"/>
<line x1="185.2" y1="459.4" x2="172.7" y2="459.4" stroke="#231815" stroke-width="1.9" stroke-linecap="round" />
<line x1="172.7" y1="459.4" x2="167.5" y2="453.5" stroke="#231815" stroke-width="1.9" stroke-linecap="round" />
<line x1="173.3" y1="457.51" x2="169.45" y2="453.14" stroke="#231815" stroke-width="1" stroke-linecap="round"/>
<line x1="167.5" y1="453.5" x2="172.1" y2="446.2" stroke="#231815" stroke-width="1" stroke-linecap="round" />
<polyline points="190.2,452.8 201,452.2 207.2,446.7" fill="none" stroke="#231815" stroke-width="1" stroke-linejoin="round" stroke-linecap="round" />
<line x1="211.03" y1="441.82" x2="212.8" y2="435.7" stroke="#231815" stroke-width="1" stroke-linecap="round" />
<line x1="212.8" y1="435.7" x2="221.42" y2="434.58" stroke="#231815" stroke-width="1" stroke-linecap="round" />
<line x1="213.95" y1="437.27" x2="221.01" y2="436.35" stroke="#231815" stroke-width="1" stroke-linecap="round"/>
<line x1="225.45" y1="437.01" x2="227.9" y2="443.6" stroke="#231815" stroke-width="1" stroke-linecap="round" />
<line x1="227.9" y1="443.6" x2="219.4" y2="449.9" stroke="#231815" stroke-width="1" stroke-linecap="round" />
<line x1="219.4" y1="449.9" x2="212.81" y2="446.18" stroke="#231815" stroke-width="1" stroke-linecap="round" />
<line x1="219.5" y1="448" x2="214.12" y2="444.96" stroke="#231815" stroke-width="1" stroke-linecap="round"/>
<text x="210.2" y="447.65" font-size="8.2" font-weight="normal" font-style="normal" text-anchor="middle" fill="#231815" stroke="#231815" stroke-width="0.22">N</text>
<text x="224.4" y="437.15" font-size="8.2" font-weight="normal" font-style="normal" text-anchor="middle" fill="#231815" stroke="#231815" stroke-width="0.22">N</text>
<line x1="225.3" y1="431.2" x2="226.13" y2="427.93" stroke="#231815" stroke-width="1" stroke-linecap="round" />
<line x1="226.13" y1="427.93" x2="230.6" y2="433.4" stroke="#231815" stroke-width="1" stroke-linecap="round" />
<text x="234.9" y="439.26" font-size="8.5" font-weight="normal" font-style="normal" text-anchor="middle" fill="#231815" stroke="#231815" stroke-width="0.22">Ar</text>
<line x1="213.1" y1="476.4" x2="216.55" y2="470.42" stroke="#231815" stroke-width="1" stroke-linecap="round" />
<line x1="216.55" y1="470.42" x2="223.45" y2="470.42" stroke="#231815" stroke-width="1" stroke-linecap="round" />
<line x1="217.93" y1="472.12" x2="222.07" y2="472.12" stroke="#231815" stroke-width="1" stroke-linecap="round"/>
<line x1="223.45" y1="470.42" x2="226.9" y2="476.4" stroke="#231815" stroke-width="1" stroke-linecap="round" />
<line x1="226.9" y1="476.4" x2="223.45" y2="482.38" stroke="#231815" stroke-width="1" stroke-linecap="round" />
<line x1="224.74" y1="476.75" x2="222.67" y2="480.33" stroke="#231815" stroke-width="1" stroke-linecap="round"/>
<line x1="223.45" y1="482.38" x2="216.55" y2="482.38" stroke="#231815" stroke-width="1" stroke-linecap="round" />
<line x1="216.55" y1="482.38" x2="213.1" y2="476.4" stroke="#231815" stroke-width="1" stroke-linecap="round" />
<line x1="217.33" y1="480.33" x2="215.26" y2="476.75" stroke="#231815" stroke-width="1" stroke-linecap="round"/>
<line x1="205.9" y1="476.4" x2="213.1" y2="476.4" stroke="#231815" stroke-width="1" />
<line x1="216.55" y1="470.42" x2="214.98" y2="467.88" stroke="#231815" stroke-width="1" stroke-linecap="round" />
<text x="213.1" y="467.44" font-size="7.3" font-weight="normal" font-style="normal" text-anchor="middle" fill="#231815" stroke="#231815" stroke-width="0.22">F</text>
<line x1="223.45" y1="470.42" x2="225.02" y2="467.88" stroke="#231815" stroke-width="1" stroke-linecap="round" />
<text x="226.9" y="467.44" font-size="7.3" font-weight="normal" font-style="normal" text-anchor="middle" fill="#231815" stroke="#231815" stroke-width="0.22">F</text>
<line x1="226.9" y1="476.4" x2="230.55" y2="476.4" stroke="#231815" stroke-width="1" stroke-linecap="round" />
<text x="234.15" y="479.03" font-size="7.3" font-weight="normal" font-style="normal" text-anchor="middle" fill="#231815" stroke="#231815" stroke-width="0.22">F</text>
<line x1="223.45" y1="482.38" x2="225.02" y2="484.92" stroke="#231815" stroke-width="1" stroke-linecap="round" />
<text x="226.9" y="490.62" font-size="7.3" font-weight="normal" font-style="normal" text-anchor="middle" fill="#231815" stroke="#231815" stroke-width="0.22">F</text>
<line x1="216.55" y1="482.38" x2="214.98" y2="484.92" stroke="#231815" stroke-width="1" stroke-linecap="round" />
<text x="213.1" y="490.62" font-size="7.3" font-weight="normal" font-style="normal" text-anchor="middle" fill="#231815" stroke="#231815" stroke-width="0.22">F</text>
<text x="185.8" y="479.1" font-size="7.3" font-weight="normal" font-style="normal" text-anchor="start" fill="#231815" textLength="15" lengthAdjust="spacingAndGlyphs" stroke="#231815" stroke-width="0.28">Ar =</text>
<text x="218.4" y="508.7" font-size="12.3" font-weight="bold" font-style="normal" text-anchor="middle" fill="#231815" textLength="24.36" lengthAdjust="spacingAndGlyphs" stroke="#231815" stroke-width="0.25">Fe1</text>
<line x1="323.66" y1="402.13" x2="333.86" y2="409.76" stroke="#231815" stroke-width="1.08" stroke-linecap="round" />
<line x1="333.86" y1="409.76" x2="332.35" y2="422.41" stroke="#231815" stroke-width="1.08" stroke-linecap="round" />
<line x1="331.35" y1="411.39" x2="330.3" y2="420.24" stroke="#231815" stroke-width="1.08" stroke-linecap="round"/>
<line x1="332.35" y1="422.41" x2="320.64" y2="427.44" stroke="#231815" stroke-width="1.08" stroke-linecap="round" />
<line x1="320.64" y1="427.44" x2="310.44" y2="419.8" stroke="#231815" stroke-width="1.08" stroke-linecap="round" />
<line x1="320.49" y1="424.45" x2="313.35" y2="419.11" stroke="#231815" stroke-width="1.08" stroke-linecap="round"/>
<line x1="310.44" y1="419.8" x2="311.95" y2="407.15" stroke="#231815" stroke-width="1.08" stroke-linecap="round" />
<line x1="311.95" y1="407.15" x2="323.66" y2="402.13" stroke="#231815" stroke-width="1.08" stroke-linecap="round" />
<line x1="314.61" y1="408.51" x2="322.81" y2="405" stroke="#231815" stroke-width="1.08" stroke-linecap="round"/>
<line x1="333.86" y1="409.76" x2="345.4" y2="407" stroke="#231815" stroke-width="1.08" stroke-linecap="round" />
<line x1="345.4" y1="407" x2="350" y2="415.31" stroke="#231815" stroke-width="1.08" stroke-linecap="round" />
<line x1="349.32" y1="420.59" x2="343.4" y2="426.8" stroke="#231815" stroke-width="1.08" stroke-linecap="round" />
<line x1="343.4" y1="426.8" x2="332.35" y2="422.41" stroke="#231815" stroke-width="1.08" stroke-linecap="round" />
<line x1="345.4" y1="407" x2="347.23" y2="398.72" stroke="#231815" stroke-width="1.08" stroke-linecap="round" />
<line x1="347.66" y1="406.99" x2="349.37" y2="399.19" stroke="#231815" stroke-width="1.08" stroke-linecap="round"/>
<line x1="343.4" y1="426.8" x2="345.27" y2="437.26" stroke="#231815" stroke-width="1.08" stroke-linecap="round" />
<line x1="345.65" y1="426.91" x2="347.43" y2="436.87" stroke="#231815" stroke-width="1.08" stroke-linecap="round"/>
<text x="351.6" y="421.01" font-size="7.8" font-weight="normal" font-style="normal" text-anchor="middle" fill="#231815" stroke="#231815" stroke-width="0.22">N</text>
<text x="348" y="398.01" font-size="7.8" font-weight="normal" font-style="normal" text-anchor="middle" fill="#231815" stroke="#231815" stroke-width="0.22">N</text>
<text x="345.9" y="443.61" font-size="7.8" font-weight="normal" font-style="normal" text-anchor="middle" fill="#231815" stroke="#231815" stroke-width="0.22">N</text>
<line x1="354.9" y1="418.17" x2="366.2" y2="418.05" stroke="#231815" stroke-width="1.08" stroke-linecap="round" />
<line x1="369.54" y1="403.4" x2="369.66" y2="414" stroke="#231815" stroke-width="1.08" stroke-linecap="round" />
<line x1="369.54" y1="433.6" x2="369.66" y2="422" stroke="#231815" stroke-width="1.08" stroke-linecap="round" />
<line x1="376.3" y1="416.19" x2="375.97" y2="415.4" stroke="#231815" stroke-width="0.8" />
<line x1="377.79" y1="415.76" x2="377.33" y2="414.65" stroke="#231815" stroke-width="0.8" />
<line x1="379.28" y1="415.32" x2="378.7" y2="413.91" stroke="#231815" stroke-width="0.8" />
<line x1="380.77" y1="414.88" x2="380.06" y2="413.17" stroke="#231815" stroke-width="0.8" />
<line x1="382.26" y1="414.44" x2="381.43" y2="412.43" stroke="#231815" stroke-width="0.8" />
<line x1="383.75" y1="414.01" x2="382.79" y2="411.69" stroke="#231815" stroke-width="0.8" />
<line x1="385.24" y1="413.57" x2="384.15" y2="410.95" stroke="#231815" stroke-width="0.8" />
<polygon points="374.61,420.59 385.31,428.72 386.7,426.52 374.77,420.33" fill="#231815"/>
<text x="370.8" y="421.02" font-size="8.4" font-weight="normal" font-style="normal" text-anchor="middle" fill="#231815" stroke="#231815" stroke-width="0.22">Fe</text>
<text x="390.4" y="412.78" font-size="8" font-weight="normal" font-style="normal" text-anchor="middle" fill="#231815" stroke="#231815" stroke-width="0.22">Cl</text>
<text x="390.4" y="433.28" font-size="8" font-weight="normal" font-style="normal" text-anchor="middle" fill="#231815" stroke="#231815" stroke-width="0.22">Cl</text>
<line x1="351.42" y1="394.07" x2="360.7" y2="391" stroke="#231815" stroke-width="1.08" stroke-linecap="round" />
<line x1="360.7" y1="391" x2="367.1" y2="397.4" stroke="#231815" stroke-width="1.08" stroke-linecap="round" />
<line x1="359.57" y1="392.98" x2="365.54" y2="398.95" stroke="#231815" stroke-width="1.08" stroke-linecap="round"/>
<line x1="360.7" y1="391" x2="363.27" y2="383.89" stroke="#231815" stroke-width="1.08" stroke-linecap="round" />
<line x1="368.29" y1="380.8" x2="378.2" y2="381.6" stroke="#231815" stroke-width="1.08" stroke-linecap="round" />
<line x1="379.8" y1="393.8" x2="372.61" y2="397.99" stroke="#231815" stroke-width="1.08" stroke-linecap="round" />
<line x1="378.33" y1="380.91" x2="388" y2="373.05" stroke="#231815" stroke-width="1.08" stroke-linecap="round" />
<line x1="381.23" y1="381.52" x2="388" y2="376.02" stroke="#231815" stroke-width="1.08" stroke-linecap="round"/>
<line x1="388" y1="373.05" x2="399.63" y2="377.5" stroke="#231815" stroke-width="1.08" stroke-linecap="round" />
<line x1="399.63" y1="377.5" x2="401.6" y2="389.79" stroke="#231815" stroke-width="1.08" stroke-linecap="round" />
<line x1="397.65" y1="379.7" x2="399.03" y2="388.31" stroke="#231815" stroke-width="1.08" stroke-linecap="round"/>
<line x1="401.6" y1="389.79" x2="391.94" y2="397.65" stroke="#231815" stroke-width="1.08" stroke-linecap="round" />
<line x1="391.94" y1="397.65" x2="380.3" y2="393.2" stroke="#231815" stroke-width="1.08" stroke-linecap="round" />
<line x1="391.01" y1="394.83" x2="382.87" y2="391.72" stroke="#231815" stroke-width="1.08" stroke-linecap="round"/>
<line x1="380.3" y1="393.2" x2="378.33" y2="380.91" stroke="#231815" stroke-width="1.08" stroke-linecap="round" />
<text x="369.5" y="402.61" font-size="7.8" font-weight="normal" font-style="normal" text-anchor="middle" fill="#231815" stroke="#231815" stroke-width="0.22">N</text>
<text x="364.5" y="383.31" font-size="7.8" font-weight="normal" font-style="normal" text-anchor="middle" fill="#231815" stroke="#231815" stroke-width="0.22">S</text>
<line x1="349.37" y1="441.76" x2="359.6" y2="444.6" stroke="#231815" stroke-width="1.08" stroke-linecap="round" />
<line x1="359.6" y1="444.6" x2="366.78" y2="439.24" stroke="#231815" stroke-width="1.08" stroke-linecap="round" />
<line x1="358.76" y1="442.48" x2="365.46" y2="437.47" stroke="#231815" stroke-width="1.08" stroke-linecap="round"/>
<line x1="359.6" y1="444.6" x2="360.57" y2="453.02" stroke="#231815" stroke-width="1.08" stroke-linecap="round" />
<line x1="364.79" y1="457.02" x2="374.5" y2="457.6" stroke="#231815" stroke-width="1.08" stroke-linecap="round" />
<line x1="378.7" y1="444" x2="372.4" y2="439.34" stroke="#231815" stroke-width="1.08" stroke-linecap="round" />
<line x1="379.34" y1="445.73" x2="391.78" y2="444.43" stroke="#231815" stroke-width="1.08" stroke-linecap="round" />
<line x1="381.45" y1="447.82" x2="390.15" y2="446.92" stroke="#231815" stroke-width="1.08" stroke-linecap="round"/>
<line x1="391.78" y1="444.43" x2="399.12" y2="454.55" stroke="#231815" stroke-width="1.08" stroke-linecap="round" />
<line x1="399.12" y1="454.55" x2="394.02" y2="465.97" stroke="#231815" stroke-width="1.08" stroke-linecap="round" />
<line x1="396.25" y1="455.33" x2="392.69" y2="463.32" stroke="#231815" stroke-width="1.08" stroke-linecap="round"/>
<line x1="394.02" y1="465.97" x2="381.59" y2="467.27" stroke="#231815" stroke-width="1.08" stroke-linecap="round" />
<line x1="381.59" y1="467.27" x2="374.25" y2="457.15" stroke="#231815" stroke-width="1.08" stroke-linecap="round" />
<line x1="382.35" y1="464.4" x2="377.21" y2="457.31" stroke="#231815" stroke-width="1.08" stroke-linecap="round"/>
<line x1="374.25" y1="457.15" x2="379.34" y2="445.73" stroke="#231815" stroke-width="1.08" stroke-linecap="round" />
<text x="369.5" y="440.01" font-size="7.8" font-weight="normal" font-style="normal" text-anchor="middle" fill="#231815" stroke="#231815" stroke-width="0.22">N</text>
<text x="361" y="459.61" font-size="7.8" font-weight="normal" font-style="normal" text-anchor="middle" fill="#231815" stroke="#231815" stroke-width="0.22">S</text>
<text x="356.3" y="508.5" font-size="12.3" font-weight="bold" font-style="normal" text-anchor="middle" fill="#231815" textLength="22.89" lengthAdjust="spacingAndGlyphs" stroke="#231815" stroke-width="0.25">Fe2</text>
<line x1="494.36" y1="403.98" x2="482.62" y2="406.71" stroke="#231815" stroke-width="0.95" stroke-linecap="round" />
<line x1="494.36" y1="403.98" x2="505.94" y2="406.71" stroke="#231815" stroke-width="0.95" stroke-linecap="round" />
<line x1="495.52" y1="406.31" x2="503.86" y2="408.27" stroke="#231815" stroke-width="0.95" stroke-linecap="round"/>
<line x1="482.62" y1="406.71" x2="471.36" y2="403.01" stroke="#231815" stroke-width="0.95" stroke-linecap="round" />
<line x1="471.36" y1="403.01" x2="462.52" y2="409.12" stroke="#231815" stroke-width="0.95" stroke-linecap="round" />
<line x1="462.52" y1="409.12" x2="468.63" y2="414.27" stroke="#231815" stroke-width="0.95" stroke-linecap="round" />
<line x1="465.09" y1="408.55" x2="468.76" y2="411.63" stroke="#231815" stroke-width="0.95" stroke-linecap="round"/>
<line x1="468.63" y1="414.27" x2="478.69" y2="414.02" stroke="#231815" stroke-width="0.95" stroke-linecap="round" />
<line x1="481.98" y1="410.79" x2="482.62" y2="406.71" stroke="#231815" stroke-width="0.95" stroke-linecap="round" />
<line x1="505.94" y1="406.71" x2="518" y2="403.01" stroke="#231815" stroke-width="0.95" stroke-linecap="round" />
<line x1="518" y1="403.01" x2="526.04" y2="409.12" stroke="#231815" stroke-width="0.95" stroke-linecap="round" />
<line x1="518.34" y1="405.91" x2="523.16" y2="409.57" stroke="#231815" stroke-width="0.95" stroke-linecap="round"/>
<line x1="526.04" y1="409.12" x2="520.41" y2="413.95" stroke="#231815" stroke-width="0.95" stroke-linecap="round" />
<line x1="520.41" y1="413.95" x2="510.35" y2="413.95" stroke="#231815" stroke-width="0.95" stroke-linecap="round" />
<line x1="506.85" y1="410.82" x2="505.94" y2="406.71" stroke="#231815" stroke-width="0.95" stroke-linecap="round" />
<line x1="464.12" y1="420.06" x2="468.63" y2="414.27" stroke="#231815" stroke-width="0.95" stroke-linecap="round" />
<line x1="464.12" y1="420.06" x2="468.63" y2="427.14" stroke="#231815" stroke-width="0.95" stroke-linecap="round" />
<line x1="466.53" y1="420.12" x2="469.59" y2="424.93" stroke="#231815" stroke-width="0.95" stroke-linecap="round"/>
<line x1="524.91" y1="419.58" x2="520.41" y2="413.95" stroke="#231815" stroke-width="0.95" stroke-linecap="round" />
<line x1="522.63" y1="419.93" x2="519.57" y2="416.1" stroke="#231815" stroke-width="0.95" stroke-linecap="round"/>
<line x1="524.91" y1="419.58" x2="520.41" y2="427.14" stroke="#231815" stroke-width="0.95" stroke-linecap="round" />
<line x1="468.63" y1="427.14" x2="478.7" y2="427.89" stroke="#231815" stroke-width="0.95" stroke-linecap="round" />
<line x1="468.63" y1="427.14" x2="464.12" y2="432.93" stroke="#231815" stroke-width="0.95" stroke-linecap="round" />
<line x1="464.12" y1="432.93" x2="472.97" y2="437.75" stroke="#231815" stroke-width="2" stroke-linecap="round" />
<line x1="467.09" y1="431.7" x2="472.4" y2="434.59" stroke="#231815" stroke-width="0.95" stroke-linecap="round"/>
<line x1="472.97" y1="437.75" x2="483.74" y2="433.25" stroke="#231815" stroke-width="2" stroke-linecap="round" />
<line x1="483.74" y1="433.25" x2="482.78" y2="431.03" stroke="#231815" stroke-width="0.95" stroke-linecap="round" />
<line x1="520.41" y1="427.14" x2="510.34" y2="427.89" stroke="#231815" stroke-width="0.95" stroke-linecap="round" />
<line x1="519.91" y1="429.08" x2="511.12" y2="429.74" stroke="#231815" stroke-width="0.95" stroke-linecap="round"/>
<line x1="520.41" y1="427.14" x2="526.84" y2="432.44" stroke="#231815" stroke-width="0.95" stroke-linecap="round" />
<line x1="526.84" y1="432.44" x2="517.2" y2="437.27" stroke="#231815" stroke-width="2" stroke-linecap="round" />
<line x1="517.2" y1="437.27" x2="505.62" y2="432.93" stroke="#231815" stroke-width="2" stroke-linecap="round" />
<line x1="515.76" y1="434.06" x2="508.81" y2="431.45" stroke="#231815" stroke-width="0.95" stroke-linecap="round"/>
<line x1="505.62" y1="432.93" x2="506.36" y2="431.07" stroke="#231815" stroke-width="0.95" stroke-linecap="round" />
<line x1="483.74" y1="433.25" x2="505.62" y2="432.93" stroke="#231815" stroke-width="0.95" stroke-linecap="round" />
<line x1="490" y1="418.73" x2="484.98" y2="415.91" stroke="#231815" stroke-width="0.7" stroke-dasharray="1.1 0.8"/>
<line x1="498.74" y1="418.78" x2="504.04" y2="415.87" stroke="#231815" stroke-width="0.7" />
<line x1="489.95" y1="423.55" x2="485.02" y2="426.21" stroke="#231815" stroke-width="0.7" />
<line x1="498.79" y1="423.51" x2="504" y2="426.24" stroke="#231815" stroke-width="0.7" stroke-dasharray="1.1 0.8"/>
<text x="494.36" y="423.47" font-size="8" font-weight="normal" font-style="normal" text-anchor="middle" fill="#231815" stroke="#231815" stroke-width="0.22">Fe</text>
<text x="481.49" y="416.12" font-size="7.7" font-weight="normal" font-style="normal" text-anchor="middle" fill="#231815" stroke="#231815" stroke-width="0.22">N</text>
<text x="507.55" y="416.12" font-size="7.7" font-weight="normal" font-style="normal" text-anchor="middle" fill="#231815" stroke="#231815" stroke-width="0.22">N</text>
<text x="481.49" y="430.27" font-size="7.7" font-weight="normal" font-style="normal" text-anchor="middle" fill="#231815" stroke="#231815" stroke-width="0.22">N</text>
<text x="507.55" y="430.27" font-size="7.7" font-weight="normal" font-style="normal" text-anchor="middle" fill="#231815" stroke="#231815" stroke-width="0.22">N</text>
<line x1="494.36" y1="403.98" x2="494.36" y2="400.6" stroke="#231815" stroke-width="0.95" stroke-linecap="round" />
<text x="495.6" y="399.86" font-size="8.5" font-weight="normal" font-style="normal" text-anchor="middle" fill="#231815" stroke="#231815" stroke-width="0.22">Ar</text>
<line x1="464.12" y1="420.06" x2="455.4" y2="420.4" stroke="#231815" stroke-width="0.95" stroke-linecap="round" />
<text x="448" y="423.96" font-size="8.5" font-weight="normal" font-style="normal" text-anchor="middle" fill="#231815" stroke="#231815" stroke-width="0.22">Ar</text>
<line x1="524.91" y1="419.58" x2="533.2" y2="419.6" stroke="#231815" stroke-width="0.95" stroke-linecap="round" />
<text x="539.9" y="423.66" font-size="8.5" font-weight="normal" font-style="normal" text-anchor="middle" fill="#231815" stroke="#231815" stroke-width="0.22">Ar</text>
<line x1="491.8" y1="476.7" x2="495.25" y2="470.72" stroke="#231815" stroke-width="0.95" stroke-linecap="round" />
<line x1="495.25" y1="470.72" x2="502.15" y2="470.72" stroke="#231815" stroke-width="0.95" stroke-linecap="round" />
<line x1="496.63" y1="472.42" x2="500.77" y2="472.42" stroke="#231815" stroke-width="0.95" stroke-linecap="round"/>
<line x1="502.15" y1="470.72" x2="505.6" y2="476.7" stroke="#231815" stroke-width="0.95" stroke-linecap="round" />
<line x1="505.6" y1="476.7" x2="502.15" y2="482.68" stroke="#231815" stroke-width="0.95" stroke-linecap="round" />
<line x1="503.44" y1="477.05" x2="501.37" y2="480.63" stroke="#231815" stroke-width="0.95" stroke-linecap="round"/>
<line x1="502.15" y1="482.68" x2="495.25" y2="482.68" stroke="#231815" stroke-width="0.95" stroke-linecap="round" />
<line x1="495.25" y1="482.68" x2="491.8" y2="476.7" stroke="#231815" stroke-width="0.95" stroke-linecap="round" />
<line x1="496.03" y1="480.63" x2="493.96" y2="477.05" stroke="#231815" stroke-width="0.95" stroke-linecap="round"/>
<line x1="484.6" y1="476.7" x2="491.8" y2="476.7" stroke="#231815" stroke-width="0.95" />
<line x1="495.25" y1="470.72" x2="493.68" y2="468.18" stroke="#231815" stroke-width="0.95" stroke-linecap="round" />
<text x="491.8" y="467.74" font-size="7.3" font-weight="normal" font-style="normal" text-anchor="middle" fill="#231815" stroke="#231815" stroke-width="0.22">F</text>
<line x1="502.15" y1="470.72" x2="503.72" y2="468.18" stroke="#231815" stroke-width="0.95" stroke-linecap="round" />
<text x="505.6" y="467.74" font-size="7.3" font-weight="normal" font-style="normal" text-anchor="middle" fill="#231815" stroke="#231815" stroke-width="0.22">F</text>
<line x1="505.6" y1="476.7" x2="509.25" y2="476.7" stroke="#231815" stroke-width="0.95" stroke-linecap="round" />
<text x="512.85" y="479.33" font-size="7.3" font-weight="normal" font-style="normal" text-anchor="middle" fill="#231815" stroke="#231815" stroke-width="0.22">F</text>
<line x1="502.15" y1="482.68" x2="503.72" y2="485.22" stroke="#231815" stroke-width="0.95" stroke-linecap="round" />
<text x="505.6" y="490.92" font-size="7.3" font-weight="normal" font-style="normal" text-anchor="middle" fill="#231815" stroke="#231815" stroke-width="0.22">F</text>
<line x1="495.25" y1="482.68" x2="493.68" y2="485.22" stroke="#231815" stroke-width="0.95" stroke-linecap="round" />
<text x="491.8" y="490.92" font-size="7.3" font-weight="normal" font-style="normal" text-anchor="middle" fill="#231815" stroke="#231815" stroke-width="0.22">F</text>
<text x="464.9" y="479.4" font-size="7.3" font-weight="normal" font-style="normal" text-anchor="start" fill="#231815" textLength="15" lengthAdjust="spacingAndGlyphs" stroke="#231815" stroke-width="0.28">Ar =</text>
<text x="493.2" y="508.5" font-size="12.3" font-weight="bold" font-style="normal" text-anchor="middle" fill="#231815" textLength="23.1" lengthAdjust="spacingAndGlyphs" stroke="#231815" stroke-width="0.25">Fe3</text>
<line x1="603.01" y1="407.89" x2="613.48" y2="415.26" stroke="#231815" stroke-width="1.08" stroke-linecap="round" />
<line x1="613.48" y1="415.26" x2="612.34" y2="428.02" stroke="#231815" stroke-width="1.08" stroke-linecap="round" />
<line x1="611.02" y1="416.97" x2="610.22" y2="425.9" stroke="#231815" stroke-width="1.08" stroke-linecap="round"/>
<line x1="612.34" y1="428.02" x2="600.73" y2="433.41" stroke="#231815" stroke-width="1.08" stroke-linecap="round" />
<line x1="600.73" y1="433.41" x2="590.25" y2="426.04" stroke="#231815" stroke-width="1.08" stroke-linecap="round" />
<line x1="600.48" y1="430.42" x2="593.14" y2="425.26" stroke="#231815" stroke-width="1.08" stroke-linecap="round"/>
<line x1="590.25" y1="426.04" x2="591.39" y2="413.28" stroke="#231815" stroke-width="1.08" stroke-linecap="round" />
<line x1="591.39" y1="413.28" x2="603.01" y2="407.89" stroke="#231815" stroke-width="1.08" stroke-linecap="round" />
<line x1="594.1" y1="414.56" x2="602.23" y2="410.79" stroke="#231815" stroke-width="1.08" stroke-linecap="round"/>
<line x1="613.48" y1="415.26" x2="625.3" y2="412.6" stroke="#231815" stroke-width="1.08" stroke-linecap="round" />
<line x1="625.3" y1="412.6" x2="629.85" y2="421.18" stroke="#231815" stroke-width="1.08" stroke-linecap="round" />
<line x1="629.26" y1="426.61" x2="623.8" y2="433" stroke="#231815" stroke-width="1.08" stroke-linecap="round" />
<line x1="623.8" y1="433" x2="612.34" y2="428.02" stroke="#231815" stroke-width="1.08" stroke-linecap="round" />
<line x1="625.3" y1="412.6" x2="626.88" y2="404.93" stroke="#231815" stroke-width="1.08" stroke-linecap="round" />
<line x1="627.56" y1="412.55" x2="629.03" y2="405.37" stroke="#231815" stroke-width="1.08" stroke-linecap="round"/>
<line x1="623.8" y1="433" x2="624.91" y2="443.22" stroke="#231815" stroke-width="1.08" stroke-linecap="round" />
<line x1="626.04" y1="433.26" x2="627.1" y2="442.98" stroke="#231815" stroke-width="1.08" stroke-linecap="round"/>
<text x="631.4" y="426.91" font-size="7.8" font-weight="normal" font-style="normal" text-anchor="middle" fill="#231815" stroke="#231815" stroke-width="0.22">N</text>
<text x="627.6" y="404.21" font-size="7.8" font-weight="normal" font-style="normal" text-anchor="middle" fill="#231815" stroke="#231815" stroke-width="0.22">N</text>
<text x="625.3" y="449.61" font-size="7.8" font-weight="normal" font-style="normal" text-anchor="middle" fill="#231815" stroke="#231815" stroke-width="0.22">N</text>
<line x1="634.7" y1="424.13" x2="646.4" y2="424.25" stroke="#231815" stroke-width="1.08" stroke-linecap="round" />
<line x1="649.14" y1="410.1" x2="649.26" y2="420.3" stroke="#231815" stroke-width="1.08" stroke-linecap="round" />
<line x1="649.04" y1="439.8" x2="649.16" y2="428.3" stroke="#231815" stroke-width="1.08" stroke-linecap="round" />
<line x1="656.33" y1="422.1" x2="655.95" y2="421.33" stroke="#231815" stroke-width="0.8" />
<line x1="657.75" y1="421.57" x2="657.22" y2="420.51" stroke="#231815" stroke-width="0.8" />
<line x1="659.17" y1="421.05" x2="658.49" y2="419.69" stroke="#231815" stroke-width="0.8" />
<line x1="660.59" y1="420.52" x2="659.76" y2="418.86" stroke="#231815" stroke-width="0.8" />
<line x1="662" y1="419.99" x2="661.03" y2="418.04" stroke="#231815" stroke-width="0.8" />
<line x1="663.42" y1="419.46" x2="662.3" y2="417.22" stroke="#231815" stroke-width="0.8" />
<line x1="664.84" y1="418.93" x2="663.57" y2="416.4" stroke="#231815" stroke-width="0.8" />
<polygon points="654.8,426.9 664.42,434.4 665.81,432.21 654.96,426.65" fill="#231815"/>
<text x="651" y="427.32" font-size="8.4" font-weight="normal" font-style="normal" text-anchor="middle" fill="#231815" stroke="#231815" stroke-width="0.22">Fe</text>
<text x="669.7" y="417.78" font-size="8" font-weight="normal" font-style="normal" text-anchor="middle" fill="#231815" stroke="#231815" stroke-width="0.22">Cl</text>
<text x="669.5" y="438.98" font-size="8" font-weight="normal" font-style="normal" text-anchor="middle" fill="#231815" stroke="#231815" stroke-width="0.22">Cl</text>
<line x1="631.05" y1="400.36" x2="639.9" y2="397.7" stroke="#231815" stroke-width="1.08" stroke-linecap="round" />
<line x1="639.9" y1="397.7" x2="646.64" y2="404.15" stroke="#231815" stroke-width="1.08" stroke-linecap="round" />
<line x1="638.81" y1="399.7" x2="645.12" y2="405.74" stroke="#231815" stroke-width="1.08" stroke-linecap="round"/>
<line x1="639.9" y1="397.7" x2="643.62" y2="389.56" stroke="#231815" stroke-width="1.08" stroke-linecap="round" />
<line x1="648.96" y1="386.65" x2="658.3" y2="388" stroke="#231815" stroke-width="1.08" stroke-linecap="round" />
<line x1="658.3" y1="388" x2="660.1" y2="399.6" stroke="#231815" stroke-width="1.08" stroke-linecap="round" />
<line x1="656.34" y1="389.73" x2="657.71" y2="398.55" stroke="#231815" stroke-width="1.08" stroke-linecap="round"/>
<line x1="660.1" y1="399.6" x2="652.15" y2="404.59" stroke="#231815" stroke-width="1.08" stroke-linecap="round" />
<text x="649.1" y="409.31" font-size="7.8" font-weight="normal" font-style="normal" text-anchor="middle" fill="#231815" stroke="#231815" stroke-width="0.22">N</text>
<text x="645.2" y="388.91" font-size="7.8" font-weight="normal" font-style="normal" text-anchor="middle" fill="#231815" stroke="#231815" stroke-width="0.22">S</text>
<line x1="628.75" y1="447.84" x2="637.6" y2="450.5" stroke="#231815" stroke-width="1.08" stroke-linecap="round" />
<line x1="637.6" y1="450.5" x2="646.11" y2="445.2" stroke="#231815" stroke-width="1.08" stroke-linecap="round" />
<line x1="636.95" y1="448.32" x2="644.95" y2="443.33" stroke="#231815" stroke-width="1.08" stroke-linecap="round"/>
<line x1="637.6" y1="450.5" x2="639.73" y2="459.6" stroke="#231815" stroke-width="1.08" stroke-linecap="round" />
<line x1="644.4" y1="463.15" x2="652.9" y2="462.8" stroke="#231815" stroke-width="1.08" stroke-linecap="round" />
<line x1="652.9" y1="462.8" x2="658.6" y2="451.5" stroke="#231815" stroke-width="1.08" stroke-linecap="round" />
<line x1="651.62" y1="460.45" x2="655.95" y2="451.87" stroke="#231815" stroke-width="1.08" stroke-linecap="round"/>
<line x1="658.6" y1="451.5" x2="651.75" y2="445.72" stroke="#231815" stroke-width="1.08" stroke-linecap="round" />
<text x="649" y="446.21" font-size="7.8" font-weight="normal" font-style="normal" text-anchor="middle" fill="#231815" stroke="#231815" stroke-width="0.22">N</text>
<text x="640.6" y="466.11" font-size="7.8" font-weight="normal" font-style="normal" text-anchor="middle" fill="#231815" stroke="#231815" stroke-width="0.22">S</text>
<text x="631.6" y="508.5" font-size="12.3" font-weight="bold" font-style="normal" text-anchor="middle" fill="#231815" textLength="24.68" lengthAdjust="spacingAndGlyphs" stroke="#231815" stroke-width="0.25">Fe4</text>
<line x1="55.45" y1="583.55" x2="55.5" y2="574.25" stroke="#231815" stroke-width="1" stroke-linecap="round" />
<line x1="53.26" y1="582.23" x2="53.29" y2="575.88" stroke="#231815" stroke-width="1" stroke-linecap="round"/>
<line x1="55.5" y1="574.25" x2="46.23" y2="567.25" stroke="#231815" stroke-width="1" stroke-linecap="round" />
<line x1="46.23" y1="567.25" x2="36.9" y2="572.85" stroke="#231815" stroke-width="1" stroke-linecap="round" />
<line x1="46.15" y1="569.86" x2="39.25" y2="574.01" stroke="#231815" stroke-width="1" stroke-linecap="round"/>
<line x1="36.9" y1="572.85" x2="36.83" y2="585.45" stroke="#231815" stroke-width="1" stroke-linecap="round" />
<line x1="36.83" y1="585.45" x2="46.1" y2="592.45" stroke="#231815" stroke-width="1" stroke-linecap="round" />
<line x1="39.36" y1="584.6" x2="46.22" y2="589.78" stroke="#231815" stroke-width="1" stroke-linecap="round"/>
<line x1="46.1" y1="592.45" x2="52.6" y2="588.55" stroke="#231815" stroke-width="1" stroke-linecap="round" />
<line x1="55.5" y1="574.25" x2="65.6" y2="569.2" stroke="#231815" stroke-width="1" stroke-linecap="round" />
<line x1="65.6" y1="569.2" x2="66.76" y2="560.17" stroke="#231815" stroke-width="1" stroke-linecap="round" />
<line x1="65.6" y1="569.2" x2="72.44" y2="573.04" stroke="#231815" stroke-width="1" stroke-linecap="round" />
<line x1="67.15" y1="567.66" x2="73.46" y2="571.2" stroke="#231815" stroke-width="1" stroke-linecap="round"/>
<line x1="77.45" y1="571.99" x2="82.57" y2="565.2" stroke="#231815" stroke-width="1" stroke-linecap="round" />
<line x1="70.53" y1="556.11" x2="77.7" y2="554.63" stroke="#231815" stroke-width="1" stroke-linecap="round" />
<line x1="77.7" y1="554.63" x2="83.67" y2="544.3" stroke="#231815" stroke-width="1" stroke-linecap="round" />
<line x1="80.38" y1="554.39" x2="84.8" y2="546.74" stroke="#231815" stroke-width="1" stroke-linecap="round"/>
<line x1="83.67" y1="544.3" x2="94.5" y2="544.53" stroke="#231815" stroke-width="1" stroke-linecap="round" />
<line x1="94.5" y1="544.53" x2="99.37" y2="555.1" stroke="#231815" stroke-width="1.7" stroke-linecap="round" />
<line x1="93.13" y1="546.83" x2="96.74" y2="554.65" stroke="#231815" stroke-width="1" stroke-linecap="round"/>
<line x1="99.37" y1="555.1" x2="93.4" y2="565.43" stroke="#231815" stroke-width="1.7" stroke-linecap="round" />
<line x1="93.4" y1="565.43" x2="82.57" y2="565.2" stroke="#231815" stroke-width="1" stroke-linecap="round" />
<line x1="92.04" y1="563.2" x2="84.02" y2="563.03" stroke="#231815" stroke-width="1" stroke-linecap="round"/>
<line x1="82.57" y1="565.2" x2="77.7" y2="554.63" stroke="#231815" stroke-width="1" stroke-linecap="round" />
<text x="55.43" y="589.59" font-size="7.6" font-weight="bold" font-style="normal" text-anchor="middle" fill="#231815" >N</text>
<text x="75.4" y="577.44" font-size="7.6" font-weight="bold" font-style="normal" text-anchor="middle" fill="#231815" >N</text>
<text x="69.8" y="559.54" font-size="7.6" font-weight="bold" font-style="normal" text-anchor="end" fill="#231815" >HN</text>
<line x1="99.41" y1="589.98" x2="106.9" y2="593.9" stroke="#231815" stroke-width="1" stroke-linecap="round" />
<line x1="100.39" y1="588.12" x2="107.34" y2="591.76" stroke="#231815" stroke-width="1" stroke-linecap="round"/>
<line x1="106.9" y1="593.9" x2="114.35" y2="589.6" stroke="#231815" stroke-width="1" stroke-linecap="round" />
<line x1="115.97" y1="584.77" x2="113.08" y2="577.95" stroke="#231815" stroke-width="1" stroke-linecap="round" />
<line x1="100.82" y1="577.95" x2="97.72" y2="585.27" stroke="#231815" stroke-width="1" stroke-linecap="round" />
<line x1="100.82" y1="577.95" x2="94.68" y2="569.1" stroke="#231815" stroke-width="1" stroke-linecap="round" />
<line x1="101.83" y1="575.55" x2="97.29" y2="569" stroke="#231815" stroke-width="1" stroke-linecap="round"/>
<line x1="94.68" y1="569.1" x2="100.82" y2="560.25" stroke="#231815" stroke-width="1" stroke-linecap="round" />
<line x1="100.82" y1="560.25" x2="113.08" y2="560.25" stroke="#231815" stroke-width="1" stroke-linecap="round" />
<line x1="102.41" y1="562.45" x2="111.49" y2="562.45" stroke="#231815" stroke-width="1" stroke-linecap="round"/>
<line x1="113.08" y1="560.25" x2="119.22" y2="569.1" stroke="#231815" stroke-width="1" stroke-linecap="round" />
<line x1="119.22" y1="569.1" x2="113.08" y2="577.95" stroke="#231815" stroke-width="1" stroke-linecap="round" />
<line x1="116.61" y1="569" x2="112.07" y2="575.55" stroke="#231815" stroke-width="1" stroke-linecap="round"/>
<line x1="113.08" y1="577.95" x2="100.82" y2="577.95" stroke="#231815" stroke-width="1" stroke-linecap="round" />
<line x1="99.17" y1="607.82" x2="106.97" y2="604.3" stroke="#231815" stroke-width="1" stroke-linecap="round" />
<line x1="101.18" y1="609.33" x2="106.47" y2="606.94" stroke="#231815" stroke-width="1" stroke-linecap="round"/>
<line x1="106.97" y1="604.3" x2="117.77" y2="609.18" stroke="#231815" stroke-width="1" stroke-linecap="round" />
<line x1="117.77" y1="609.18" x2="117.77" y2="618.95" stroke="#231815" stroke-width="1" stroke-linecap="round" />
<line x1="115.57" y1="610.45" x2="115.57" y2="617.68" stroke="#231815" stroke-width="1" stroke-linecap="round"/>
<line x1="117.77" y1="618.95" x2="106.97" y2="623.83" stroke="#231815" stroke-width="1.9" stroke-linecap="round" />
<line x1="106.97" y1="623.83" x2="96.17" y2="618.95" stroke="#231815" stroke-width="1.9" stroke-linecap="round" />
<line x1="106.47" y1="621.19" x2="98.48" y2="617.58" stroke="#231815" stroke-width="1" stroke-linecap="round"/>
<line x1="96.17" y1="618.95" x2="96.17" y2="612.48" stroke="#231815" stroke-width="1" stroke-linecap="round" />
<line x1="106.9" y1="593.9" x2="106.97" y2="604.3" stroke="#231815" stroke-width="1" stroke-linecap="round" />
<text x="96.4" y="591.14" font-size="7.6" font-weight="bold" font-style="normal" text-anchor="middle" fill="#231815" >N</text>
<text x="114.7" y="590.64" font-size="7.6" font-weight="bold" font-style="normal" text-anchor="start" fill="#231815" >NH</text>
<text x="96.17" y="611.92" font-size="7.6" font-weight="bold" font-style="normal" text-anchor="middle" fill="#231815" >N</text>
<line x1="54.98" y1="606.38" x2="49" y2="601.55" stroke="#231815" stroke-width="1" stroke-linecap="round" />
<line x1="49" y1="601.55" x2="40.25" y2="606.7" stroke="#231815" stroke-width="1" stroke-linecap="round" />
<line x1="48.98" y1="604.12" x2="42.5" y2="607.93" stroke="#231815" stroke-width="1" stroke-linecap="round"/>
<line x1="40.25" y1="606.7" x2="40.05" y2="618.75" stroke="#231815" stroke-width="1" stroke-linecap="round" />
<line x1="40.05" y1="618.75" x2="48.6" y2="625.65" stroke="#231815" stroke-width="1" stroke-linecap="round" />
<line x1="42.54" y1="617.93" x2="48.87" y2="623.04" stroke="#231815" stroke-width="1" stroke-linecap="round"/>
<line x1="48.6" y1="625.65" x2="57.35" y2="620.5" stroke="#231815" stroke-width="1" stroke-linecap="round" />
<line x1="57.35" y1="620.5" x2="57.5" y2="611.75" stroke="#231815" stroke-width="1" stroke-linecap="round" />
<line x1="55.18" y1="618.9" x2="55.28" y2="612.95" stroke="#231815" stroke-width="1" stroke-linecap="round"/>
<line x1="57.35" y1="620.5" x2="65.6" y2="626.8" stroke="#231815" stroke-width="1" stroke-linecap="round" />
<line x1="65.6" y1="626.8" x2="71.72" y2="623.44" stroke="#231815" stroke-width="1" stroke-linecap="round" />
<line x1="67.14" y1="628.35" x2="72.73" y2="625.28" stroke="#231815" stroke-width="1" stroke-linecap="round"/>
<line x1="76.63" y1="624.6" x2="81.22" y2="631.25" stroke="#231815" stroke-width="1" stroke-linecap="round" />
<line x1="65.6" y1="626.8" x2="66.42" y2="636.51" stroke="#231815" stroke-width="1" stroke-linecap="round" />
<line x1="70.02" y1="640.62" x2="75.88" y2="641.88" stroke="#231815" stroke-width="1" stroke-linecap="round" />
<line x1="81.22" y1="631.25" x2="91.08" y2="631.58" stroke="#231815" stroke-width="1" stroke-linecap="round" />
<line x1="82.43" y1="633.49" x2="89.73" y2="633.74" stroke="#231815" stroke-width="1" stroke-linecap="round"/>
<line x1="91.08" y1="631.58" x2="95.62" y2="642.55" stroke="#231815" stroke-width="1.7" stroke-linecap="round" />
<line x1="95.62" y1="642.55" x2="90.28" y2="653.18" stroke="#231815" stroke-width="1.7" stroke-linecap="round" />
<line x1="92.96" y1="642.95" x2="89.01" y2="650.81" stroke="#231815" stroke-width="1" stroke-linecap="round"/>
<line x1="90.28" y1="653.18" x2="80.42" y2="652.85" stroke="#231815" stroke-width="1" stroke-linecap="round" />
<line x1="80.42" y1="652.85" x2="75.88" y2="641.88" stroke="#231815" stroke-width="1" stroke-linecap="round" />
<line x1="81.86" y1="650.58" x2="78.51" y2="642.47" stroke="#231815" stroke-width="1" stroke-linecap="round"/>
<line x1="75.88" y1="641.88" x2="81.22" y2="631.25" stroke="#231815" stroke-width="1" stroke-linecap="round" />
<text x="57.55" y="611.19" font-size="7.6" font-weight="bold" font-style="normal" text-anchor="middle" fill="#231815" >N</text>
<text x="74.7" y="624.54" font-size="7.6" font-weight="bold" font-style="normal" text-anchor="middle" fill="#231815" >N</text>
<text x="69.3" y="642.64" font-size="7.6" font-weight="bold" font-style="normal" text-anchor="end" fill="#231815" >HN</text>
<line x1="75.4" y1="594" x2="75.4" y2="578.5" stroke="#231815" stroke-width="1" stroke-linecap="round" />
<line x1="74.7" y1="602.8" x2="74.7" y2="618" stroke="#231815" stroke-width="1" stroke-linecap="round" />
<line x1="69.98" y1="595.18" x2="69.58" y2="595.84" stroke="#231815" stroke-width="0.85" />
<line x1="68.39" y1="594.02" x2="67.81" y2="594.97" stroke="#231815" stroke-width="0.85" />
<line x1="66.8" y1="592.86" x2="66.04" y2="594.1" stroke="#231815" stroke-width="0.85" />
<line x1="65.2" y1="591.7" x2="64.27" y2="593.24" stroke="#231815" stroke-width="0.85" />
<line x1="63.61" y1="590.54" x2="62.5" y2="592.37" stroke="#231815" stroke-width="0.85" />
<line x1="62.02" y1="589.37" x2="60.74" y2="591.5" stroke="#231815" stroke-width="0.85" />
<line x1="60.43" y1="588.21" x2="58.97" y2="590.63" stroke="#231815" stroke-width="0.85" />
<line x1="80.54" y1="596.35" x2="80.21" y2="595.66" stroke="#231815" stroke-width="0.85" />
<line x1="82.52" y1="595.6" x2="82.04" y2="594.59" stroke="#231815" stroke-width="0.85" />
<line x1="84.5" y1="594.85" x2="83.88" y2="593.53" stroke="#231815" stroke-width="0.85" />
<line x1="86.49" y1="594.1" x2="85.72" y2="592.47" stroke="#231815" stroke-width="0.85" />
<line x1="88.47" y1="593.35" x2="87.55" y2="591.41" stroke="#231815" stroke-width="0.85" />
<line x1="90.45" y1="592.6" x2="89.39" y2="590.35" stroke="#231815" stroke-width="0.85" />
<line x1="92.44" y1="591.85" x2="91.22" y2="589.29" stroke="#231815" stroke-width="0.85" />
<polygon points="70.48,600.94 60.34,605.26 61.72,607.69 70.63,601.2" fill="#231815"/>
<polygon points="79.31,600.96 91.96,608.65 93.21,606.15 79.44,600.69" fill="#231815"/>
<text x="74.9" y="601.7" font-size="8.6" font-weight="bold" font-style="normal" text-anchor="middle" fill="#231815" >Fe</text>
<text x="81" y="683.1" font-size="12.3" font-weight="bold" font-style="normal" text-anchor="middle" fill="#231815" textLength="23.62" lengthAdjust="spacingAndGlyphs" stroke="#231815" stroke-width="0.25">Fe5</text>
<line x1="218.88" y1="567.37" x2="207.14" y2="570.91" stroke="#231815" stroke-width="0.95" stroke-linecap="round" />
<line x1="218.88" y1="567.37" x2="230.13" y2="570.91" stroke="#231815" stroke-width="0.95" stroke-linecap="round" />
<line x1="219.85" y1="569.77" x2="227.96" y2="572.32" stroke="#231815" stroke-width="0.95" stroke-linecap="round"/>
<line x1="207.14" y1="570.91" x2="196.36" y2="566.89" stroke="#231815" stroke-width="0.95" stroke-linecap="round" />
<line x1="196.36" y1="566.89" x2="187.52" y2="572.52" stroke="#231815" stroke-width="0.95" stroke-linecap="round" />
<line x1="187.52" y1="572.52" x2="193.14" y2="578.14" stroke="#231815" stroke-width="0.95" stroke-linecap="round" />
<line x1="190.13" y1="572.16" x2="193.5" y2="575.53" stroke="#231815" stroke-width="0.95" stroke-linecap="round"/>
<line x1="193.14" y1="578.14" x2="203.21" y2="577.77" stroke="#231815" stroke-width="0.95" stroke-linecap="round" />
<line x1="206.54" y1="574.51" x2="207.14" y2="570.91" stroke="#231815" stroke-width="0.95" stroke-linecap="round" />
<line x1="230.13" y1="570.91" x2="241.87" y2="566.89" stroke="#231815" stroke-width="0.95" stroke-linecap="round" />
<line x1="241.87" y1="566.89" x2="250.24" y2="572.52" stroke="#231815" stroke-width="0.95" stroke-linecap="round" />
<line x1="242.37" y1="569.75" x2="247.39" y2="573.13" stroke="#231815" stroke-width="0.95" stroke-linecap="round"/>
<line x1="250.24" y1="572.52" x2="245.09" y2="578.14" stroke="#231815" stroke-width="0.95" stroke-linecap="round" />
<line x1="245.09" y1="578.14" x2="235.34" y2="577.77" stroke="#231815" stroke-width="0.95" stroke-linecap="round" />
<line x1="231.47" y1="574.65" x2="230.13" y2="570.91" stroke="#231815" stroke-width="0.95" stroke-linecap="round" />
<line x1="188.32" y1="584.09" x2="193.14" y2="578.14" stroke="#231815" stroke-width="0.95" stroke-linecap="round" />
<line x1="188.32" y1="584.09" x2="193.14" y2="591.01" stroke="#231815" stroke-width="0.95" stroke-linecap="round" />
<line x1="190.73" y1="584.06" x2="194.01" y2="588.76" stroke="#231815" stroke-width="0.95" stroke-linecap="round"/>
<line x1="249.43" y1="583.77" x2="245.09" y2="578.14" stroke="#231815" stroke-width="0.95" stroke-linecap="round" />
<line x1="247.15" y1="584.09" x2="244.2" y2="580.27" stroke="#231815" stroke-width="0.95" stroke-linecap="round"/>
<line x1="249.43" y1="583.77" x2="245.09" y2="591.01" stroke="#231815" stroke-width="0.95" stroke-linecap="round" />
<line x1="193.14" y1="591.01" x2="203.22" y2="591.89" stroke="#231815" stroke-width="0.95" stroke-linecap="round" />
<line x1="193.14" y1="591.01" x2="188.8" y2="596.64" stroke="#231815" stroke-width="0.95" stroke-linecap="round" />
<line x1="188.8" y1="596.64" x2="197.97" y2="601.46" stroke="#231815" stroke-width="2" stroke-linecap="round" />
<line x1="191.8" y1="595.39" x2="197.3" y2="598.29" stroke="#231815" stroke-width="0.95" stroke-linecap="round"/>
<line x1="197.97" y1="601.46" x2="207.14" y2="597.44" stroke="#231815" stroke-width="2" stroke-linecap="round" />
<line x1="207.14" y1="597.44" x2="206.67" y2="595.27" stroke="#231815" stroke-width="0.95" stroke-linecap="round" />
<line x1="245.09" y1="591.01" x2="235.33" y2="591.89" stroke="#231815" stroke-width="0.95" stroke-linecap="round" />
<line x1="244.63" y1="592.96" x2="236.13" y2="593.72" stroke="#231815" stroke-width="0.95" stroke-linecap="round"/>
<line x1="245.09" y1="591.01" x2="250.24" y2="595.83" stroke="#231815" stroke-width="0.95" stroke-linecap="round" />
<line x1="250.24" y1="595.83" x2="241.39" y2="601.14" stroke="#231815" stroke-width="2" stroke-linecap="round" />
<line x1="241.39" y1="601.14" x2="230.13" y2="597.44" stroke="#231815" stroke-width="2" stroke-linecap="round" />
<line x1="239.92" y1="598.03" x2="233.17" y2="595.81" stroke="#231815" stroke-width="0.95" stroke-linecap="round"/>
<line x1="230.13" y1="597.44" x2="231.22" y2="595.05" stroke="#231815" stroke-width="0.95" stroke-linecap="round" />
<line x1="218.88" y1="601.46" x2="207.14" y2="597.44" stroke="#231815" stroke-width="2" stroke-linecap="round" />
<line x1="218.88" y1="601.46" x2="230.13" y2="597.44" stroke="#231815" stroke-width="2" stroke-linecap="round" />
<line x1="218.01" y1="598.63" x2="209.56" y2="595.74" stroke="#231815" stroke-width="0.95" stroke-linecap="round"/>
<line x1="214.47" y1="582.21" x2="209.53" y2="579.56" stroke="#231815" stroke-width="0.7" stroke-dasharray="1.1 0.8"/>
<line x1="223.34" y1="582.32" x2="228.98" y2="579.47" stroke="#231815" stroke-width="0.7" />
<line x1="214.56" y1="587.11" x2="209.46" y2="590.11" stroke="#231815" stroke-width="0.7" />
<line x1="223.25" y1="587" x2="229.05" y2="590.2" stroke="#231815" stroke-width="0.7" stroke-dasharray="1.1 0.8"/>
<text x="218.88" y="586.93" font-size="8.2" font-weight="normal" font-style="normal" text-anchor="middle" fill="#231815" stroke="#231815" stroke-width="0.22">Fe</text>
<text x="206.01" y="579.91" font-size="7.9" font-weight="normal" font-style="normal" text-anchor="middle" fill="#231815" stroke="#231815" stroke-width="0.22">N</text>
<text x="232.55" y="579.91" font-size="7.9" font-weight="normal" font-style="normal" text-anchor="middle" fill="#231815" stroke="#231815" stroke-width="0.22">N</text>
<text x="206.01" y="594.38" font-size="7.9" font-weight="normal" font-style="normal" text-anchor="middle" fill="#231815" stroke="#231815" stroke-width="0.22">N</text>
<text x="232.55" y="594.38" font-size="7.9" font-weight="normal" font-style="normal" text-anchor="middle" fill="#231815" stroke="#231815" stroke-width="0.22">N</text>
<line x1="218.88" y1="567.37" x2="218.88" y2="561.3" stroke="#231815" stroke-width="0.95" stroke-linecap="round" />
<text x="220.5" y="560.28" font-size="8" font-weight="normal" font-style="normal" text-anchor="middle" fill="#231815" stroke="#231815" stroke-width="0.22">Ar</text>
<line x1="188.32" y1="584.09" x2="180.3" y2="584.6" stroke="#231815" stroke-width="0.95" stroke-linecap="round" />
<text x="172.7" y="587.68" font-size="8" font-weight="normal" font-style="normal" text-anchor="middle" fill="#231815" stroke="#231815" stroke-width="0.22">Ar</text>
<line x1="249.43" y1="583.77" x2="258" y2="583.8" stroke="#231815" stroke-width="0.95" stroke-linecap="round" />
<text x="264.7" y="587.18" font-size="8" font-weight="normal" font-style="normal" text-anchor="middle" fill="#231815" stroke="#231815" stroke-width="0.22">Ar</text>
<line x1="218.88" y1="601.46" x2="218.9" y2="608.2" stroke="#231815" stroke-width="0.95" stroke-linecap="round" />
<line x1="218.9" y1="608.2" x2="230.1" y2="611.9" stroke="#231815" stroke-width="0.95" stroke-linecap="round" />
<line x1="230.1" y1="611.9" x2="230.1" y2="618.3" stroke="#231815" stroke-width="0.95" stroke-linecap="round" />
<line x1="227.7" y1="613.05" x2="227.7" y2="617.15" stroke="#231815" stroke-width="0.95" stroke-linecap="round"/>
<line x1="230.1" y1="618.3" x2="223.05" y2="621.08" stroke="#231815" stroke-width="1.9" stroke-linecap="round" />
<line x1="216.32" y1="621.17" x2="208.4" y2="618.3" stroke="#231815" stroke-width="1.9" stroke-linecap="round" />
<line x1="215.44" y1="618.3" x2="211.25" y2="616.78" stroke="#231815" stroke-width="0.95" stroke-linecap="round"/>
<line x1="208.4" y1="618.3" x2="208.4" y2="611.9" stroke="#231815" stroke-width="0.95" stroke-linecap="round" />
<line x1="208.4" y1="611.9" x2="218.9" y2="608.2" stroke="#231815" stroke-width="0.95" stroke-linecap="round" />
<line x1="211.09" y1="613.5" x2="217.81" y2="611.13" stroke="#231815" stroke-width="0.95" stroke-linecap="round"/>
<text x="219.7" y="625.55" font-size="8.2" font-weight="bold" font-style="normal" text-anchor="middle" fill="#231815" >N</text>
<text x="195.7" y="652.9" font-size="6.8" font-weight="normal" font-style="normal" text-anchor="start" fill="#231815" textLength="12.4" lengthAdjust="spacingAndGlyphs" stroke="#231815" stroke-width="0.25">Ar =</text>
<line x1="212.1" y1="650.7" x2="222.5" y2="650.7" stroke="#231815" stroke-width="1.05" />
<line x1="222.4" y1="650.6" x2="226.6" y2="643.33" stroke="#231815" stroke-width="0.95" stroke-linecap="round" />
<line x1="226.6" y1="643.33" x2="235" y2="643.33" stroke="#231815" stroke-width="0.95" stroke-linecap="round" />
<line x1="228.11" y1="645.33" x2="233.49" y2="645.33" stroke="#231815" stroke-width="0.95" stroke-linecap="round"/>
<line x1="235" y1="643.33" x2="237.7" y2="648" stroke="#231815" stroke-width="0.95" stroke-linecap="round" />
<line x1="237.7" y1="653.2" x2="235" y2="657.87" stroke="#231815" stroke-width="0.95" stroke-linecap="round" />
<line x1="235.36" y1="653.25" x2="234.02" y2="655.57" stroke="#231815" stroke-width="0.95" stroke-linecap="round"/>
<line x1="235" y1="657.87" x2="226.6" y2="657.87" stroke="#231815" stroke-width="0.95" stroke-linecap="round" />
<line x1="226.6" y1="657.87" x2="222.4" y2="650.6" stroke="#231815" stroke-width="0.95" stroke-linecap="round" />
<line x1="227.58" y1="655.57" x2="224.89" y2="650.91" stroke="#231815" stroke-width="0.95" stroke-linecap="round"/>
<text x="238.8" y="653.26" font-size="7.4" font-weight="bold" font-style="normal" text-anchor="middle" fill="#231815" >N</text>
<text x="218" y="683.1" font-size="12.3" font-weight="bold" font-style="normal" text-anchor="middle" fill="#231815" textLength="24.68" lengthAdjust="spacingAndGlyphs" stroke="#231815" stroke-width="0.25">Fe6</text>
<line x1="353.25" y1="587.31" x2="341.67" y2="574.12" stroke="#231815" stroke-width="1.15" stroke-linecap="round" />
<line x1="362.25" y1="587.31" x2="375.76" y2="574.12" stroke="#231815" stroke-width="1.15" stroke-linecap="round" />
<line x1="351.96" y1="596.16" x2="328.8" y2="606.61" stroke="#231815" stroke-width="1.15" stroke-linecap="round" />
<line x1="363.86" y1="596.32" x2="382.2" y2="610.79" stroke="#231815" stroke-width="1.15" stroke-linecap="round" />
<line x1="356.64" y1="597.69" x2="357.59" y2="598.02" stroke="#231815" stroke-width="1.25" />
<line x1="355.81" y1="599.4" x2="357.17" y2="599.88" stroke="#231815" stroke-width="1.25" />
<line x1="354.99" y1="601.12" x2="356.74" y2="601.73" stroke="#231815" stroke-width="1.25" />
<line x1="354.16" y1="602.84" x2="356.31" y2="603.59" stroke="#231815" stroke-width="1.25" />
<line x1="353.34" y1="604.56" x2="355.89" y2="605.45" stroke="#231815" stroke-width="1.25" />
<line x1="352.52" y1="606.27" x2="355.46" y2="607.3" stroke="#231815" stroke-width="1.25" />
<line x1="351.69" y1="607.99" x2="355.04" y2="609.16" stroke="#231815" stroke-width="1.25" />
<line x1="350.87" y1="609.71" x2="354.61" y2="611.02" stroke="#231815" stroke-width="1.25" />
<line x1="350.04" y1="611.42" x2="354.18" y2="612.87" stroke="#231815" stroke-width="1.25" />
<polygon points="357.66,596.33 356.94,629.84 361.14,629.7 358.16,596.31" fill="#231815"/>
<polyline points="325.91,614.33 330.73,625.59 341.99,629.61 347.46,621.73" fill="none" stroke="#231815" stroke-width="1" stroke-linejoin="round" stroke-linecap="round" />
<polyline points="362.41,623.66 367.24,625.91 379.78,625.59 384.29,618.83" fill="none" stroke="#231815" stroke-width="1" stroke-linejoin="round" stroke-linecap="round" />
<polygon points="323.16,613.97 320.77,630.61 323.96,630.86 324.15,614.05" fill="#231815"/>
<polyline points="322.37,630.41 339.58,641.67 354.05,636.2" fill="none" stroke="#231815" stroke-width="3" stroke-linejoin="round" stroke-linecap="round" />
<polyline points="363.86,636.84 374.15,641.67 390.24,630.09" fill="none" stroke="#231815" stroke-width="3" stroke-linejoin="round" stroke-linecap="round" />
<polygon points="386.86,618.79 388.68,630.79 391.79,630.03 387.83,618.55" fill="#231815"/>
<text x="358.07" y="595.16" font-size="10.2" font-weight="bold" font-style="normal" text-anchor="middle" fill="#231815" >Fe</text>
<text x="337.16" y="572.9" font-size="10" font-weight="bold" font-style="normal" text-anchor="middle" fill="#231815" >Cl</text>
<text x="380.59" y="572.9" font-size="10" font-weight="bold" font-style="normal" text-anchor="middle" fill="#231815" >Cl</text>
<text x="324.3" y="613.75" font-size="10" font-weight="bold" font-style="normal" text-anchor="middle" fill="#231815" >N</text>
<text x="386.22" y="618.25" font-size="10" font-weight="bold" font-style="normal" text-anchor="middle" fill="#231815" >N</text>
<text x="350.03" y="621.15" font-size="10" font-weight="bold" font-style="normal" text-anchor="middle" fill="#231815" >N</text>
<text x="358.88" y="638.35" font-size="10" font-weight="bold" font-style="normal" text-anchor="middle" fill="#231815" >N</text>
<text x="356.7" y="683.1" font-size="12.3" font-weight="bold" font-style="normal" text-anchor="middle" fill="#231815" textLength="23.62" lengthAdjust="spacingAndGlyphs" stroke="#231815" stroke-width="0.25">Fe7</text>
<line x1="476.7" y1="573.3" x2="483.7" y2="578.5" stroke="#231815" stroke-width="0.9" stroke-linecap="round" />
<line x1="483.7" y1="578.5" x2="483.7" y2="588.7" stroke="#231815" stroke-width="0.9" stroke-linecap="round" />
<line x1="482" y1="580.03" x2="482" y2="587.17" stroke="#231815" stroke-width="0.9" stroke-linecap="round"/>
<line x1="483.7" y1="588.7" x2="479.11" y2="592.11" stroke="#231815" stroke-width="0.9" stroke-linecap="round" />
<line x1="474.29" y1="592.11" x2="469.7" y2="588.7" stroke="#231815" stroke-width="0.9" stroke-linecap="round" />
<line x1="474.5" y1="590.15" x2="471.76" y2="588.12" stroke="#231815" stroke-width="0.9" stroke-linecap="round"/>
<line x1="469.7" y1="588.7" x2="469.7" y2="578.5" stroke="#231815" stroke-width="0.9" stroke-linecap="round" />
<line x1="469.7" y1="578.5" x2="476.7" y2="573.3" stroke="#231815" stroke-width="0.9" stroke-linecap="round" />
<line x1="471.76" y1="579.08" x2="476.66" y2="575.44" stroke="#231815" stroke-width="0.9" stroke-linecap="round"/>
<polyline points="469.7,588.7 458.89,599.03 458.47,618.61" fill="none" stroke="#231815" stroke-width="0.9" stroke-linejoin="round" stroke-linecap="round" />
<line x1="443.2" y1="590.7" x2="450.7" y2="594.65" stroke="#231815" stroke-width="0.9" stroke-linecap="round" />
<line x1="443.53" y1="592.8" x2="448.78" y2="595.56" stroke="#231815" stroke-width="0.9" stroke-linecap="round"/>
<line x1="450.7" y1="594.65" x2="450.7" y2="599.05" stroke="#231815" stroke-width="0.9" stroke-linecap="round" />
<line x1="448.05" y1="603.45" x2="443.2" y2="606" stroke="#231815" stroke-width="1.7" stroke-linecap="round" />
<line x1="446.39" y1="602.4" x2="443.53" y2="603.9" stroke="#231815" stroke-width="0.9" stroke-linecap="round"/>
<line x1="443.2" y1="606" x2="435.7" y2="602.05" stroke="#231815" stroke-width="1.7" stroke-linecap="round" />
<line x1="435.7" y1="602.05" x2="435.7" y2="594.65" stroke="#231815" stroke-width="0.9" stroke-linecap="round" />
<line x1="437.4" y1="600.94" x2="437.4" y2="595.76" stroke="#231815" stroke-width="0.9" stroke-linecap="round"/>
<line x1="435.7" y1="594.65" x2="443.2" y2="590.7" stroke="#231815" stroke-width="0.9" stroke-linecap="round" />
<polyline points="443.2,606 443.61,615.69 455.69,620.42" fill="none" stroke="#231815" stroke-width="0.9" stroke-linejoin="round" stroke-linecap="round" />
<line x1="479.04" y1="635.49" x2="483.6" y2="638.75" stroke="#231815" stroke-width="0.9" stroke-linecap="round" />
<line x1="483.6" y1="638.75" x2="483.6" y2="648.95" stroke="#231815" stroke-width="0.9" stroke-linecap="round" />
<line x1="481.9" y1="640.28" x2="481.9" y2="647.42" stroke="#231815" stroke-width="0.9" stroke-linecap="round"/>
<line x1="483.6" y1="648.95" x2="476.6" y2="653.95" stroke="#231815" stroke-width="0.9" stroke-linecap="round" />
<line x1="476.6" y1="653.95" x2="469.6" y2="648.95" stroke="#231815" stroke-width="0.9" stroke-linecap="round" />
<line x1="476.54" y1="651.82" x2="471.64" y2="648.32" stroke="#231815" stroke-width="0.9" stroke-linecap="round"/>
<line x1="469.6" y1="648.95" x2="469.6" y2="638.75" stroke="#231815" stroke-width="0.9" stroke-linecap="round" />
<line x1="469.6" y1="638.75" x2="474.16" y2="635.49" stroke="#231815" stroke-width="0.9" stroke-linecap="round" />
<line x1="471.64" y1="639.38" x2="474.34" y2="637.45" stroke="#231815" stroke-width="0.9" stroke-linecap="round"/>
<polyline points="458.47,624.03 458.47,629.58 469.6,638.75" fill="none" stroke="#231815" stroke-width="0.9" stroke-linejoin="round" stroke-linecap="round" />
<line x1="476.56" y1="610.29" x2="476.67" y2="597.1" stroke="#231815" stroke-width="0.9" stroke-linecap="round" />
<line x1="476.54" y1="617.49" x2="476.59" y2="630.55" stroke="#231815" stroke-width="0.9" stroke-linecap="round" />
<polygon points="472.2,615.46 460.9,618.87 461.8,621.1 472.31,615.74" fill="#231815"/>
<line x1="471.15" y1="611.1" x2="470.91" y2="611.63" stroke="#3a2f2b" stroke-width="0.8" />
<line x1="469.27" y1="610.15" x2="468.96" y2="610.83" stroke="#3a2f2b" stroke-width="0.8" />
<line x1="467.4" y1="609.2" x2="467.02" y2="610.03" stroke="#3a2f2b" stroke-width="0.8" />
<line x1="465.52" y1="608.25" x2="465.07" y2="609.23" stroke="#3a2f2b" stroke-width="0.8" />
<line x1="463.65" y1="607.3" x2="463.13" y2="608.43" stroke="#3a2f2b" stroke-width="0.8" />
<line x1="461.77" y1="606.35" x2="461.18" y2="607.63" stroke="#3a2f2b" stroke-width="0.8" />
<line x1="459.9" y1="605.39" x2="459.24" y2="606.83" stroke="#3a2f2b" stroke-width="0.8" />
<line x1="458.02" y1="604.44" x2="457.29" y2="606.03" stroke="#3a2f2b" stroke-width="0.8" />
<line x1="456.15" y1="603.49" x2="455.35" y2="605.23" stroke="#3a2f2b" stroke-width="0.8" />
<line x1="480.96" y1="611.58" x2="490.59" y2="606.57" stroke="#231815" stroke-width="0.9" stroke-linecap="round" />
<polygon points="480.62,615.5 488.75,619.51 489.56,617.25 480.72,615.22" fill="#231815"/>
<text x="476.53" y="616.62" font-size="7.6" font-weight="bold" font-style="normal" text-anchor="middle" fill="#231815" >Fe</text>
<text x="476.7" y="596.35" font-size="6.8" font-weight="bold" font-style="normal" text-anchor="middle" fill="#231815" >N</text>
<text x="476.6" y="636.2" font-size="6.8" font-weight="bold" font-style="normal" text-anchor="middle" fill="#231815" >N</text>
<text x="458.19" y="623.7" font-size="6.8" font-weight="bold" font-style="normal" text-anchor="middle" fill="#231815" >N</text>
<text x="450.7" y="604.5" font-size="6.8" font-weight="bold" font-style="normal" text-anchor="middle" fill="#231815" >N</text>
<text x="493.61" y="607.45" font-size="6.8" font-weight="bold" font-style="normal" text-anchor="middle" fill="#231815" >O</text>
<text x="489.3" y="623.2" font-size="6.8" font-weight="bold" font-style="normal" text-anchor="start" fill="#231815" >OH</text>
<text x="499.4" y="624.6" font-size="4.6" font-weight="bold" font-style="normal" text-anchor="start" fill="#231815" >2</text>
<line x1="511.7" y1="554.4" x2="519" y2="559.45" stroke="#231815" stroke-width="0.9" stroke-linecap="round" />
<line x1="511.83" y1="556.56" x2="516.94" y2="560.09" stroke="#231815" stroke-width="0.9" stroke-linecap="round"/>
<line x1="519" y1="559.45" x2="519" y2="570.15" stroke="#231815" stroke-width="0.9" stroke-linecap="round" />
<line x1="519" y1="570.15" x2="514.17" y2="573.49" stroke="#231815" stroke-width="0.9" stroke-linecap="round" />
<line x1="516.94" y1="569.51" x2="514.05" y2="571.51" stroke="#231815" stroke-width="0.9" stroke-linecap="round"/>
<line x1="509.23" y1="573.49" x2="504.4" y2="570.15" stroke="#231815" stroke-width="0.9" stroke-linecap="round" />
<line x1="504.4" y1="570.15" x2="504.4" y2="559.45" stroke="#231815" stroke-width="0.9" stroke-linecap="round" />
<line x1="506.1" y1="568.54" x2="506.1" y2="561.05" stroke="#231815" stroke-width="0.9" stroke-linecap="round"/>
<line x1="504.4" y1="559.45" x2="511.7" y2="554.4" stroke="#231815" stroke-width="0.9" stroke-linecap="round" />
<polyline points="519,570.15 530.83,579.44 531.53,588.19" fill="none" stroke="#231815" stroke-width="0.9" stroke-linejoin="round" stroke-linecap="round" />
<line x1="544.4" y1="603.5" x2="552.5" y2="607.45" stroke="#231815" stroke-width="0.9" stroke-linecap="round" />
<line x1="552.5" y1="607.45" x2="552.5" y2="614.35" stroke="#231815" stroke-width="0.9" stroke-linecap="round" />
<line x1="550.8" y1="608.48" x2="550.8" y2="613.32" stroke="#231815" stroke-width="0.9" stroke-linecap="round"/>
<line x1="552.5" y1="614.35" x2="544.4" y2="618.3" stroke="#231815" stroke-width="1.7" stroke-linecap="round" />
<line x1="544.4" y1="618.3" x2="536.3" y2="614.35" stroke="#231815" stroke-width="1.7" stroke-linecap="round" />
<line x1="543.93" y1="616.18" x2="538.26" y2="613.41" stroke="#231815" stroke-width="0.9" stroke-linecap="round"/>
<line x1="536.3" y1="614.35" x2="536.3" y2="610.45" stroke="#231815" stroke-width="0.9" stroke-linecap="round" />
<line x1="539" y1="606.14" x2="544.4" y2="603.5" stroke="#231815" stroke-width="0.9" stroke-linecap="round" />
<line x1="540.69" y1="607.2" x2="543.93" y2="605.62" stroke="#231815" stroke-width="0.9" stroke-linecap="round"/>
<polyline points="534.44,591.67 544.03,595.83 544.4,603.5" fill="none" stroke="#231815" stroke-width="0.9" stroke-linejoin="round" stroke-linecap="round" />
<line x1="514.13" y1="618.16" x2="519" y2="621.7" stroke="#231815" stroke-width="0.9" stroke-linecap="round" />
<line x1="513.98" y1="620.16" x2="516.91" y2="622.28" stroke="#231815" stroke-width="0.9" stroke-linecap="round"/>
<line x1="519" y1="621.7" x2="519" y2="631.9" stroke="#231815" stroke-width="0.9" stroke-linecap="round" />
<line x1="519" y1="631.9" x2="511.7" y2="637.2" stroke="#231815" stroke-width="0.9" stroke-linecap="round" />
<line x1="516.91" y1="631.32" x2="511.8" y2="635.03" stroke="#231815" stroke-width="0.9" stroke-linecap="round"/>
<line x1="511.7" y1="637.2" x2="504.4" y2="631.9" stroke="#231815" stroke-width="0.9" stroke-linecap="round" />
<line x1="504.4" y1="631.9" x2="504.4" y2="621.7" stroke="#231815" stroke-width="0.9" stroke-linecap="round" />
<line x1="506.1" y1="630.37" x2="506.1" y2="623.23" stroke="#231815" stroke-width="0.9" stroke-linecap="round"/>
<line x1="504.4" y1="621.7" x2="509.27" y2="618.16" stroke="#231815" stroke-width="0.9" stroke-linecap="round" />
<line x1="531.53" y1="593.89" x2="531.53" y2="604.44" stroke="#231815" stroke-width="0.9" />
<polyline points="531.53,609.03 531.53,611.39 519,621.7" fill="none" stroke="#231815" stroke-width="0.9" stroke-linejoin="round" stroke-linecap="round" />
<line x1="511.44" y1="593.34" x2="511.65" y2="578.4" stroke="#231815" stroke-width="0.9" stroke-linecap="round" />
<line x1="511.45" y1="600.54" x2="511.65" y2="613.2" stroke="#231815" stroke-width="0.9" stroke-linecap="round" />
<line x1="516.65" y1="595.71" x2="516.48" y2="595.11" stroke="#231815" stroke-width="0.8" />
<line x1="518.22" y1="595.36" x2="517.98" y2="594.54" stroke="#231815" stroke-width="0.8" />
<line x1="519.79" y1="595.02" x2="519.48" y2="593.97" stroke="#231815" stroke-width="0.8" />
<line x1="521.36" y1="594.68" x2="520.98" y2="593.41" stroke="#231815" stroke-width="0.8" />
<line x1="522.93" y1="594.34" x2="522.48" y2="592.84" stroke="#231815" stroke-width="0.8" />
<line x1="524.5" y1="594" x2="523.98" y2="592.27" stroke="#231815" stroke-width="0.8" />
<line x1="526.06" y1="593.66" x2="525.48" y2="591.7" stroke="#231815" stroke-width="0.8" />
<line x1="527.63" y1="593.32" x2="526.98" y2="591.13" stroke="#231815" stroke-width="0.8" />
<polygon points="515.57,598.87 532.66,607.33 533.67,604.93 515.69,598.59" fill="#231815"/>
<line x1="506.83" y1="599.01" x2="496.71" y2="603.6" stroke="#231815" stroke-width="0.9" stroke-linecap="round" />
<line x1="506.36" y1="593.99" x2="506.05" y2="594.61" stroke="#231815" stroke-width="0.75" />
<line x1="504.99" y1="593.08" x2="504.5" y2="594.03" stroke="#231815" stroke-width="0.75" />
<line x1="503.62" y1="592.17" x2="502.96" y2="593.46" stroke="#231815" stroke-width="0.75" />
<line x1="502.24" y1="591.25" x2="501.41" y2="592.88" stroke="#231815" stroke-width="0.75" />
<line x1="500.87" y1="590.34" x2="499.87" y2="592.31" stroke="#231815" stroke-width="0.75" />
<text x="511.39" y="599.68" font-size="7.6" font-weight="bold" font-style="normal" text-anchor="middle" fill="#231815" >Fe</text>
<text x="511.7" y="577.65" font-size="6.8" font-weight="bold" font-style="normal" text-anchor="middle" fill="#231815" >N</text>
<text x="511.7" y="618.85" font-size="6.8" font-weight="bold" font-style="normal" text-anchor="middle" fill="#231815" >N</text>
<text x="531.53" y="593.42" font-size="6.8" font-weight="bold" font-style="normal" text-anchor="middle" fill="#231815" >N</text>
<text x="536.3" y="609.9" font-size="6.8" font-weight="bold" font-style="normal" text-anchor="middle" fill="#231815" >N</text>
<text x="487" y="591.6" font-size="6.8" font-weight="bold" font-style="normal" text-anchor="start" fill="#231815" >H</text>
<text x="492" y="593" font-size="4.6" font-weight="bold" font-style="normal" text-anchor="start" fill="#231815" >2</text>
<text x="494.6" y="591.6" font-size="6.8" font-weight="bold" font-style="normal" text-anchor="start" fill="#231815" >O</text>
<text x="493.8" y="683.1" font-size="12.3" font-weight="bold" font-style="normal" text-anchor="middle" fill="#231815" textLength="24.68" lengthAdjust="spacingAndGlyphs" stroke="#231815" stroke-width="0.25">Fe8</text>
<line x1="592.34" y1="593.4" x2="603.91" y2="598.54" stroke="#231815" stroke-width="1.25" stroke-linecap="round" />
<line x1="593.31" y1="595.91" x2="601.4" y2="599.51" stroke="#231815" stroke-width="1.25" stroke-linecap="round"/>
<line x1="603.91" y1="598.54" x2="603.91" y2="608.18" stroke="#231815" stroke-width="1.25" stroke-linecap="round" />
<line x1="603.91" y1="608.18" x2="592.34" y2="614.6" stroke="#231815" stroke-width="2.4" stroke-linecap="round" />
<line x1="601.25" y1="607.48" x2="593.16" y2="611.98" stroke="#231815" stroke-width="1.25" stroke-linecap="round"/>
<line x1="592.34" y1="614.6" x2="581.74" y2="609.78" stroke="#231815" stroke-width="2.4" stroke-linecap="round" />
<line x1="581.74" y1="609.78" x2="581.74" y2="598.54" stroke="#231815" stroke-width="1.25" stroke-linecap="round" />
<line x1="583.64" y1="608.1" x2="583.64" y2="600.23" stroke="#231815" stroke-width="1.25" stroke-linecap="round"/>
<line x1="581.74" y1="598.54" x2="592.34" y2="593.4" stroke="#231815" stroke-width="1.25" stroke-linecap="round" />
<line x1="603.91" y1="598.54" x2="615.39" y2="597.09" stroke="#231815" stroke-width="1.25" stroke-linecap="round" />
<polygon points="603.74,608.81 615.11,612.68 615.87,609.77 604.07,607.55" fill="#231815"/>
<line x1="621.36" y1="593.27" x2="627.19" y2="584.41" stroke="#231815" stroke-width="1.25" stroke-linecap="round" />
<line x1="627.19" y1="584.41" x2="621.08" y2="581.97" stroke="#231815" stroke-width="1.25" stroke-linecap="round" />
<line x1="625.93" y1="585.95" x2="620.19" y2="583.66" stroke="#231815" stroke-width="1.25" stroke-linecap="round"/>
<line x1="627.19" y1="584.41" x2="642.13" y2="584.89" stroke="#231815" stroke-width="1.25" stroke-linecap="round" />
<line x1="642.62" y1="584.19" x2="641.99" y2="584.05" stroke="#231815" stroke-width="0.9" />
<line x1="643.12" y1="582.68" x2="642.22" y2="582.47" stroke="#231815" stroke-width="0.9" />
<line x1="643.62" y1="581.17" x2="642.44" y2="580.89" stroke="#231815" stroke-width="0.9" />
<line x1="644.13" y1="579.65" x2="642.66" y2="579.31" stroke="#231815" stroke-width="0.9" />
<line x1="644.63" y1="578.14" x2="642.88" y2="577.73" stroke="#231815" stroke-width="0.9" />
<line x1="645.13" y1="576.63" x2="643.1" y2="576.15" stroke="#231815" stroke-width="0.9" />
<line x1="645.63" y1="575.11" x2="643.32" y2="574.58" stroke="#231815" stroke-width="0.9" />
<line x1="646.13" y1="573.6" x2="643.54" y2="573" stroke="#231815" stroke-width="0.9" />
<line x1="642.99" y1="585.26" x2="642.94" y2="584.42" stroke="#231815" stroke-width="1.1" />
<line x1="644.67" y1="585.41" x2="644.59" y2="584.09" stroke="#231815" stroke-width="1.1" />
<line x1="646.35" y1="585.55" x2="646.25" y2="583.75" stroke="#231815" stroke-width="1.1" />
<line x1="648.04" y1="585.69" x2="647.91" y2="583.42" stroke="#231815" stroke-width="1.1" />
<line x1="649.72" y1="585.84" x2="649.56" y2="583.08" stroke="#231815" stroke-width="1.1" />
<line x1="642.13" y1="584.89" x2="646.2" y2="592.6" stroke="#231815" stroke-width="1.25" stroke-linecap="round" />
<line x1="652.07" y1="596.26" x2="663" y2="596.61" stroke="#231815" stroke-width="1.25" stroke-linecap="round" />
<line x1="663" y1="596.61" x2="666.37" y2="592.98" stroke="#231815" stroke-width="1.25" stroke-linecap="round" />
<line x1="662.02" y1="594.88" x2="665.11" y2="591.54" stroke="#231815" stroke-width="1.25" stroke-linecap="round"/>
<line x1="663" y1="596.61" x2="666.87" y2="600.87" stroke="#231815" stroke-width="1.25" stroke-linecap="round" />
<line x1="673.28" y1="603.36" x2="682.92" y2="603.36" stroke="#231815" stroke-width="1.25" />
<line x1="667.05" y1="606.65" x2="663" y2="611.71" stroke="#231815" stroke-width="1.25" stroke-linecap="round" />
<line x1="663" y1="611.71" x2="666.56" y2="616.14" stroke="#231815" stroke-width="1.25" stroke-linecap="round" />
<line x1="661.9" y1="613.37" x2="665.21" y2="617.48" stroke="#231815" stroke-width="1.25" stroke-linecap="round"/>
<line x1="663" y1="611.71" x2="652.07" y2="611.71" stroke="#231815" stroke-width="2.7" stroke-linecap="round" />
<line x1="646.47" y1="615.37" x2="642.45" y2="624.56" stroke="#231815" stroke-width="2.7" stroke-linecap="round" />
<line x1="642.45" y1="624.56" x2="625.59" y2="624.56" stroke="#231815" stroke-width="2.7" stroke-linecap="round" />
<line x1="625.59" y1="624.56" x2="619.89" y2="629.72" stroke="#231815" stroke-width="1.25" stroke-linecap="round" />
<line x1="623.87" y1="623.55" x2="618.47" y2="628.44" stroke="#231815" stroke-width="1.25" stroke-linecap="round"/>
<line x1="625.59" y1="624.56" x2="621.01" y2="615.74" stroke="#231815" stroke-width="2.7" stroke-linecap="round" />
<polygon points="642.53,624.85 655.23,622.47 654.4,619.58 642.37,624.27" fill="#231815"/>
<polygon points="642.19,624.7 647.24,636.21 649.86,634.75 642.71,624.41" fill="#231815"/>
<line x1="628.72" y1="601.92" x2="623.18" y2="598.85" stroke="#231815" stroke-width="0.9" stroke-linecap="round" stroke-dasharray="1.4 0.8"/>
<line x1="628.65" y1="607.24" x2="623.24" y2="610.06" stroke="#231815" stroke-width="0.9" stroke-linecap="round" />
<line x1="638.44" y1="601.8" x2="644.11" y2="598.47" stroke="#231815" stroke-width="0.9" stroke-linecap="round" />
<line x1="638.65" y1="607.1" x2="643.94" y2="609.69" stroke="#231815" stroke-width="0.9" stroke-linecap="round" stroke-dasharray="1.4 0.8"/>
<line x1="633.62" y1="595.65" x2="633.62" y2="599.67" stroke="#231815" stroke-width="1.1" />
<text x="633.62" y="608.03" font-size="9.4" font-weight="bold" font-style="normal" text-anchor="middle" fill="#231815" stroke="#231815" stroke-width="0.3">Fe</text>
<text x="634.74" y="593.75" font-size="9" font-weight="bold" font-style="normal" text-anchor="middle" fill="#231815" stroke="#231815" stroke-width="0.3">Cl</text>
<text x="619.16" y="599.85" font-size="9" font-weight="bold" font-style="normal" text-anchor="middle" fill="#231815" stroke="#231815" stroke-width="0.3">N</text>
<text x="619.16" y="615.43" font-size="9" font-weight="bold" font-style="normal" text-anchor="middle" fill="#231815" stroke="#231815" stroke-width="0.3">N</text>
<text x="648.07" y="599.37" font-size="9" font-weight="bold" font-style="normal" text-anchor="middle" fill="#231815" stroke="#231815" stroke-width="0.3">N</text>
<text x="648.07" y="614.95" font-size="9" font-weight="bold" font-style="normal" text-anchor="middle" fill="#231815" stroke="#231815" stroke-width="0.3">N</text>
<text x="669.43" y="606.92" font-size="9" font-weight="bold" font-style="normal" text-anchor="middle" fill="#231815" stroke="#231815" stroke-width="0.3">N</text>
<text x="617.56" y="583.8" font-size="9" font-weight="bold" font-style="normal" text-anchor="middle" fill="#231815" stroke="#231815" stroke-width="0.3">O</text>
<text x="668.95" y="593.43" font-size="9" font-weight="bold" font-style="normal" text-anchor="middle" fill="#231815" stroke="#231815" stroke-width="0.3">O</text>
<text x="668.95" y="622.34" font-size="9" font-weight="bold" font-style="normal" text-anchor="middle" fill="#231815" stroke="#231815" stroke-width="0.3">O</text>
<text x="617.07" y="635.51" font-size="9" font-weight="bold" font-style="normal" text-anchor="middle" fill="#231815" stroke="#231815" stroke-width="0.3">O</text>
<text x="631.5" y="683.1" font-size="12.3" font-weight="bold" font-style="normal" text-anchor="middle" fill="#231815" textLength="24.68" lengthAdjust="spacingAndGlyphs" stroke="#231815" stroke-width="0.25">Fe9</text>
</svg>
</body></html>
